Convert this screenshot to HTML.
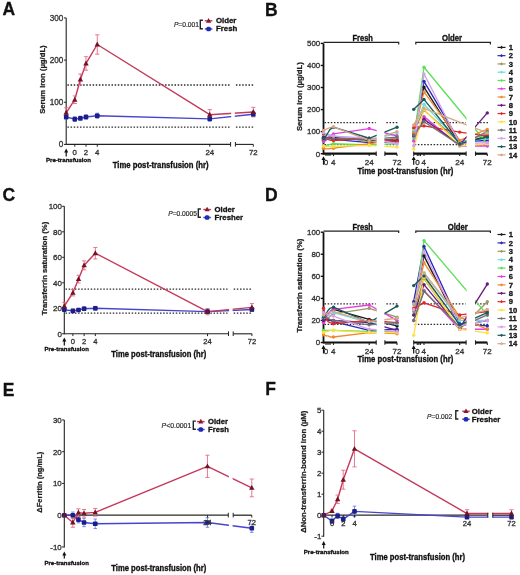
<!DOCTYPE html>
<html><head><meta charset="utf-8"><style>
html,body{margin:0;padding:0;background:#fff;}
svg{display:block;font-family:"Liberation Sans", sans-serif;filter:blur(0.3px);}

</style></head><body>
<svg width="520" height="575" viewBox="0 0 520 575">
<rect width="520" height="575" fill="#fff"/>
<text x="2.60" y="15.00" font-size="17.5" font-weight="bold" fill="#111" stroke="#111" stroke-width="0.3">A</text>
<line x1="66.20" y1="17.95" x2="66.20" y2="144.90" stroke="#222" stroke-width="1.1"/>
<line x1="64.00" y1="144.40" x2="66.20" y2="144.40" stroke="#222" stroke-width="1.0"/>
<text x="63.30" y="147.35" font-size="8.2" font-weight="normal" text-anchor="end" fill="#333" stroke="#333" stroke-width="0.32">0</text>
<line x1="64.00" y1="102.25" x2="66.20" y2="102.25" stroke="#222" stroke-width="1.0"/>
<text x="63.30" y="105.20" font-size="8.2" font-weight="normal" text-anchor="end" fill="#333" stroke="#333" stroke-width="0.32">100</text>
<line x1="64.00" y1="60.10" x2="66.20" y2="60.10" stroke="#222" stroke-width="1.0"/>
<text x="63.30" y="63.05" font-size="8.2" font-weight="normal" text-anchor="end" fill="#333" stroke="#333" stroke-width="0.32">200</text>
<line x1="64.00" y1="17.95" x2="66.20" y2="17.95" stroke="#222" stroke-width="1.0"/>
<text x="63.30" y="20.90" font-size="8.2" font-weight="normal" text-anchor="end" fill="#333" stroke="#333" stroke-width="0.32">300</text>
<text x="0" y="0" transform="translate(45.14,79.60) rotate(-90)" font-size="7.9" font-weight="bold" text-anchor="middle" fill="#222" stroke="#222" stroke-width="0.25" textLength="68.5" lengthAdjust="spacingAndGlyphs">Serum iron (µg/dL)</text>
<line x1="67.40" y1="84.97" x2="229.60" y2="84.97" stroke="#2a2a2a" stroke-width="1.35" stroke-dasharray="1.5 1.65"/>
<line x1="235.90" y1="84.97" x2="253.30" y2="84.97" stroke="#2a2a2a" stroke-width="1.35" stroke-dasharray="1.5 1.65"/>
<line x1="67.40" y1="127.12" x2="229.60" y2="127.12" stroke="#2a2a2a" stroke-width="1.35" stroke-dasharray="1.5 1.65"/>
<line x1="235.90" y1="127.12" x2="253.30" y2="127.12" stroke="#2a2a2a" stroke-width="1.35" stroke-dasharray="1.5 1.65"/>
<polyline points="66.20,117.00 74.75,119.11 80.38,118.27 86.00,117.00 97.25,115.74 209.75,118.90 253.30,114.26" fill="none" stroke="#4646cc" stroke-width="1.4" stroke-linejoin="round"/>
<polyline points="66.20,112.79 74.75,99.72 80.38,79.49 86.00,63.47 97.25,44.50 209.75,114.68 253.30,111.94" fill="none" stroke="#c6385a" stroke-width="1.4" stroke-linejoin="round"/>
<rect x="231.20" y="32.95" width="3.60" height="116.45" fill="#fff"/>
<line x1="66.20" y1="114.89" x2="66.20" y2="119.11" stroke="#5a72e6" stroke-width="0.8"/>
<line x1="64.45" y1="114.89" x2="67.95" y2="114.89" stroke="#5a72e6" stroke-width="0.8"/>
<line x1="64.45" y1="119.11" x2="67.95" y2="119.11" stroke="#5a72e6" stroke-width="0.8"/>
<line x1="74.75" y1="117.00" x2="74.75" y2="121.22" stroke="#5a72e6" stroke-width="0.8"/>
<line x1="73.00" y1="117.00" x2="76.50" y2="117.00" stroke="#5a72e6" stroke-width="0.8"/>
<line x1="73.00" y1="121.22" x2="76.50" y2="121.22" stroke="#5a72e6" stroke-width="0.8"/>
<line x1="80.38" y1="116.16" x2="80.38" y2="120.37" stroke="#5a72e6" stroke-width="0.8"/>
<line x1="78.62" y1="116.16" x2="82.12" y2="116.16" stroke="#5a72e6" stroke-width="0.8"/>
<line x1="78.62" y1="120.37" x2="82.12" y2="120.37" stroke="#5a72e6" stroke-width="0.8"/>
<line x1="86.00" y1="114.89" x2="86.00" y2="119.11" stroke="#5a72e6" stroke-width="0.8"/>
<line x1="84.25" y1="114.89" x2="87.75" y2="114.89" stroke="#5a72e6" stroke-width="0.8"/>
<line x1="84.25" y1="119.11" x2="87.75" y2="119.11" stroke="#5a72e6" stroke-width="0.8"/>
<line x1="97.25" y1="113.21" x2="97.25" y2="118.27" stroke="#5a72e6" stroke-width="0.8"/>
<line x1="95.50" y1="113.21" x2="99.00" y2="113.21" stroke="#5a72e6" stroke-width="0.8"/>
<line x1="95.50" y1="118.27" x2="99.00" y2="118.27" stroke="#5a72e6" stroke-width="0.8"/>
<line x1="209.75" y1="116.79" x2="209.75" y2="121.01" stroke="#5a72e6" stroke-width="0.8"/>
<line x1="208.00" y1="116.79" x2="211.50" y2="116.79" stroke="#5a72e6" stroke-width="0.8"/>
<line x1="208.00" y1="121.01" x2="211.50" y2="121.01" stroke="#5a72e6" stroke-width="0.8"/>
<line x1="253.30" y1="111.73" x2="253.30" y2="116.79" stroke="#5a72e6" stroke-width="0.8"/>
<line x1="251.55" y1="111.73" x2="255.05" y2="111.73" stroke="#5a72e6" stroke-width="0.8"/>
<line x1="251.55" y1="116.79" x2="255.05" y2="116.79" stroke="#5a72e6" stroke-width="0.8"/>
<line x1="66.20" y1="107.73" x2="66.20" y2="117.85" stroke="#e86a86" stroke-width="0.9"/>
<line x1="64.10" y1="107.73" x2="68.30" y2="107.73" stroke="#e86a86" stroke-width="0.9"/>
<line x1="64.10" y1="117.85" x2="68.30" y2="117.85" stroke="#e86a86" stroke-width="0.9"/>
<line x1="74.75" y1="95.93" x2="74.75" y2="103.51" stroke="#e86a86" stroke-width="0.9"/>
<line x1="72.65" y1="95.93" x2="76.85" y2="95.93" stroke="#e86a86" stroke-width="0.9"/>
<line x1="72.65" y1="103.51" x2="76.85" y2="103.51" stroke="#e86a86" stroke-width="0.9"/>
<line x1="80.38" y1="74.01" x2="80.38" y2="84.97" stroke="#e86a86" stroke-width="0.9"/>
<line x1="78.28" y1="74.01" x2="82.47" y2="74.01" stroke="#e86a86" stroke-width="0.9"/>
<line x1="78.28" y1="84.97" x2="82.47" y2="84.97" stroke="#e86a86" stroke-width="0.9"/>
<line x1="86.00" y1="56.73" x2="86.00" y2="70.22" stroke="#e86a86" stroke-width="0.9"/>
<line x1="83.90" y1="56.73" x2="88.10" y2="56.73" stroke="#e86a86" stroke-width="0.9"/>
<line x1="83.90" y1="70.22" x2="88.10" y2="70.22" stroke="#e86a86" stroke-width="0.9"/>
<line x1="97.25" y1="34.81" x2="97.25" y2="54.20" stroke="#e86a86" stroke-width="0.9"/>
<line x1="95.15" y1="34.81" x2="99.35" y2="34.81" stroke="#e86a86" stroke-width="0.9"/>
<line x1="95.15" y1="54.20" x2="99.35" y2="54.20" stroke="#e86a86" stroke-width="0.9"/>
<line x1="209.75" y1="109.63" x2="209.75" y2="119.74" stroke="#e86a86" stroke-width="0.9"/>
<line x1="207.65" y1="109.63" x2="211.85" y2="109.63" stroke="#e86a86" stroke-width="0.9"/>
<line x1="207.65" y1="119.74" x2="211.85" y2="119.74" stroke="#e86a86" stroke-width="0.9"/>
<line x1="253.30" y1="107.31" x2="253.30" y2="116.58" stroke="#e86a86" stroke-width="0.9"/>
<line x1="251.20" y1="107.31" x2="255.40" y2="107.31" stroke="#e86a86" stroke-width="0.9"/>
<line x1="251.20" y1="116.58" x2="255.40" y2="116.58" stroke="#e86a86" stroke-width="0.9"/>
<rect x="63.90" y="114.70" width="4.60" height="4.60" rx="0.9" fill="#1e1e8a"/>
<rect x="72.45" y="116.81" width="4.60" height="4.60" rx="0.9" fill="#1e1e8a"/>
<rect x="78.08" y="115.97" width="4.60" height="4.60" rx="0.9" fill="#1e1e8a"/>
<rect x="83.70" y="114.70" width="4.60" height="4.60" rx="0.9" fill="#1e1e8a"/>
<rect x="94.95" y="113.44" width="4.60" height="4.60" rx="0.9" fill="#1e1e8a"/>
<rect x="207.45" y="116.60" width="4.60" height="4.60" rx="0.9" fill="#1e1e8a"/>
<rect x="251.00" y="111.96" width="4.60" height="4.60" rx="0.9" fill="#1e1e8a"/>
<path d="M66.20,109.87 L68.90,114.73 L63.50,114.73 Z" fill="#6e1424"/>
<path d="M74.75,96.81 L77.45,101.67 L72.05,101.67 Z" fill="#6e1424"/>
<path d="M80.38,76.57 L83.08,81.43 L77.67,81.43 Z" fill="#6e1424"/>
<path d="M86.00,60.56 L88.70,65.42 L83.30,65.42 Z" fill="#6e1424"/>
<path d="M97.25,41.59 L99.95,46.45 L94.55,46.45 Z" fill="#6e1424"/>
<path d="M209.75,111.77 L212.45,116.63 L207.05,116.63 Z" fill="#6e1424"/>
<path d="M253.30,109.03 L256.00,113.89 L250.60,113.89 Z" fill="#6e1424"/>
<line x1="66.20" y1="144.40" x2="230.60" y2="144.40" stroke="#222" stroke-width="1.1"/>
<line x1="235.40" y1="144.40" x2="253.30" y2="144.40" stroke="#222" stroke-width="1.1"/>
<line x1="230.60" y1="142.00" x2="230.60" y2="146.60" stroke="#222" stroke-width="1.0"/>
<line x1="235.40" y1="142.00" x2="235.40" y2="146.60" stroke="#222" stroke-width="1.0"/>
<line x1="74.75" y1="144.40" x2="74.75" y2="146.70" stroke="#222" stroke-width="1.0"/>
<line x1="86.00" y1="144.40" x2="86.00" y2="146.70" stroke="#222" stroke-width="1.0"/>
<line x1="97.25" y1="144.40" x2="97.25" y2="146.70" stroke="#222" stroke-width="1.0"/>
<line x1="209.75" y1="144.40" x2="209.75" y2="146.70" stroke="#222" stroke-width="1.0"/>
<line x1="253.30" y1="144.40" x2="253.30" y2="146.70" stroke="#222" stroke-width="1.0"/>
<text x="74.75" y="155.31" font-size="7.8" font-weight="normal" text-anchor="middle" fill="#333" stroke="#333" stroke-width="0.32">0</text>
<text x="86.00" y="155.31" font-size="7.8" font-weight="normal" text-anchor="middle" fill="#333" stroke="#333" stroke-width="0.32">2</text>
<text x="97.25" y="155.31" font-size="7.8" font-weight="normal" text-anchor="middle" fill="#333" stroke="#333" stroke-width="0.32">4</text>
<text x="209.75" y="155.31" font-size="7.8" font-weight="normal" text-anchor="middle" fill="#333" stroke="#333" stroke-width="0.32">24</text>
<text x="253.30" y="155.31" font-size="7.8" font-weight="normal" text-anchor="middle" fill="#333" stroke="#333" stroke-width="0.32">72</text>
<line x1="66.20" y1="150.50" x2="66.20" y2="156.50" stroke="#111" stroke-width="1.2"/>
<path d="M66.20,148.50 L68.20,152.40 L64.20,152.40 Z" fill="#111"/>
<text x="46.00" y="162.43" font-size="6.2" font-weight="bold" text-anchor="start" fill="#111" stroke="#111" stroke-width="0.32" textLength="45" lengthAdjust="spacingAndGlyphs">Pre-transfusion</text>
<text x="112.70" y="167.99" font-size="8.3" font-weight="bold" text-anchor="start" fill="#111" stroke="#111" stroke-width="0.32" textLength="95.8" lengthAdjust="spacingAndGlyphs">Time post-transfusion (hr)</text>
<text x="199.00" y="27.41" font-size="6.7" text-anchor="end" fill="#2a2a2a" stroke="#2a2a2a" stroke-width="0.18"><tspan font-style="italic">P</tspan>=0.001</text>
<path d="M202.90,20.30 L200.30,20.30 L200.30,28.70 L202.90,28.70" fill="none" stroke="#222" stroke-width="1.4"/>
<line x1="204.80" y1="20.80" x2="212.40" y2="20.80" stroke="#c6385a" stroke-width="1.4"/>
<path d="M208.60,17.99 L211.20,22.67 L206.00,22.67 Z" fill="#8a1a2a"/>
<line x1="204.80" y1="29.00" x2="212.40" y2="29.00" stroke="#4646cc" stroke-width="1.4"/>
<rect x="206.30" y="26.70" width="4.60" height="4.60" rx="1.6" fill="#2228b8"/>
<text x="216.00" y="23.21" font-size="7.8" font-weight="bold" text-anchor="start" fill="#111" stroke="#111" stroke-width="0.3">Older</text>
<text x="216.00" y="31.41" font-size="7.8" font-weight="bold" text-anchor="start" fill="#111" stroke="#111" stroke-width="0.3">Fresh</text>
<text x="2.60" y="200.50" font-size="17.5" font-weight="bold" fill="#111" stroke="#111" stroke-width="0.3">C</text>
<line x1="64.30" y1="206.30" x2="64.30" y2="334.30" stroke="#222" stroke-width="1.1"/>
<line x1="62.10" y1="333.80" x2="64.30" y2="333.80" stroke="#222" stroke-width="1.0"/>
<text x="62.00" y="336.68" font-size="8.0" font-weight="normal" text-anchor="end" fill="#333" stroke="#333" stroke-width="0.32">0</text>
<line x1="62.10" y1="308.30" x2="64.30" y2="308.30" stroke="#222" stroke-width="1.0"/>
<text x="62.00" y="311.18" font-size="8.0" font-weight="normal" text-anchor="end" fill="#333" stroke="#333" stroke-width="0.32">20</text>
<line x1="62.10" y1="282.80" x2="64.30" y2="282.80" stroke="#222" stroke-width="1.0"/>
<text x="62.00" y="285.68" font-size="8.0" font-weight="normal" text-anchor="end" fill="#333" stroke="#333" stroke-width="0.32">40</text>
<line x1="62.10" y1="257.30" x2="64.30" y2="257.30" stroke="#222" stroke-width="1.0"/>
<text x="62.00" y="260.18" font-size="8.0" font-weight="normal" text-anchor="end" fill="#333" stroke="#333" stroke-width="0.32">60</text>
<line x1="62.10" y1="231.80" x2="64.30" y2="231.80" stroke="#222" stroke-width="1.0"/>
<text x="62.00" y="234.68" font-size="8.0" font-weight="normal" text-anchor="end" fill="#333" stroke="#333" stroke-width="0.32">80</text>
<line x1="62.10" y1="206.30" x2="64.30" y2="206.30" stroke="#222" stroke-width="1.0"/>
<text x="62.00" y="209.18" font-size="8.0" font-weight="normal" text-anchor="end" fill="#333" stroke="#333" stroke-width="0.32">100</text>
<text x="0" y="0" transform="translate(47.34,268.50) rotate(-90)" font-size="7.9" font-weight="bold" text-anchor="middle" fill="#222" stroke="#222" stroke-width="0.25" textLength="93.5" lengthAdjust="spacingAndGlyphs">Transferrin saturation (%)</text>
<line x1="65.50" y1="289.18" x2="227.50" y2="289.18" stroke="#2a2a2a" stroke-width="1.35" stroke-dasharray="1.5 1.65"/>
<line x1="233.70" y1="289.18" x2="251.90" y2="289.18" stroke="#2a2a2a" stroke-width="1.35" stroke-dasharray="1.5 1.65"/>
<line x1="65.50" y1="313.15" x2="227.50" y2="313.15" stroke="#2a2a2a" stroke-width="1.35" stroke-dasharray="1.5 1.65"/>
<line x1="233.70" y1="313.15" x2="251.90" y2="313.15" stroke="#2a2a2a" stroke-width="1.35" stroke-dasharray="1.5 1.65"/>
<polyline points="64.30,309.70 72.90,310.85 78.51,309.96 84.12,308.68 95.34,308.30 207.54,311.62 251.90,309.57" fill="none" stroke="#4646cc" stroke-width="1.4" stroke-linejoin="round"/>
<polyline points="64.30,306.13 72.90,292.75 78.51,279.10 84.12,265.33 95.34,253.22 207.54,311.62 251.90,307.41" fill="none" stroke="#c6385a" stroke-width="1.4" stroke-linejoin="round"/>
<rect x="229.10" y="221.30" width="3.50" height="117.50" fill="#fff"/>
<line x1="64.30" y1="307.79" x2="64.30" y2="311.62" stroke="#5a72e6" stroke-width="0.8"/>
<line x1="62.55" y1="307.79" x2="66.05" y2="307.79" stroke="#5a72e6" stroke-width="0.8"/>
<line x1="62.55" y1="311.62" x2="66.05" y2="311.62" stroke="#5a72e6" stroke-width="0.8"/>
<line x1="72.90" y1="309.32" x2="72.90" y2="312.38" stroke="#5a72e6" stroke-width="0.8"/>
<line x1="71.15" y1="309.32" x2="74.65" y2="309.32" stroke="#5a72e6" stroke-width="0.8"/>
<line x1="71.15" y1="312.38" x2="74.65" y2="312.38" stroke="#5a72e6" stroke-width="0.8"/>
<line x1="78.51" y1="308.43" x2="78.51" y2="311.49" stroke="#5a72e6" stroke-width="0.8"/>
<line x1="76.76" y1="308.43" x2="80.26" y2="308.43" stroke="#5a72e6" stroke-width="0.8"/>
<line x1="76.76" y1="311.49" x2="80.26" y2="311.49" stroke="#5a72e6" stroke-width="0.8"/>
<line x1="84.12" y1="306.77" x2="84.12" y2="310.60" stroke="#5a72e6" stroke-width="0.8"/>
<line x1="82.37" y1="306.77" x2="85.87" y2="306.77" stroke="#5a72e6" stroke-width="0.8"/>
<line x1="82.37" y1="310.60" x2="85.87" y2="310.60" stroke="#5a72e6" stroke-width="0.8"/>
<line x1="95.34" y1="306.39" x2="95.34" y2="310.21" stroke="#5a72e6" stroke-width="0.8"/>
<line x1="93.59" y1="306.39" x2="97.09" y2="306.39" stroke="#5a72e6" stroke-width="0.8"/>
<line x1="93.59" y1="310.21" x2="97.09" y2="310.21" stroke="#5a72e6" stroke-width="0.8"/>
<line x1="207.54" y1="309.70" x2="207.54" y2="313.53" stroke="#5a72e6" stroke-width="0.8"/>
<line x1="205.79" y1="309.70" x2="209.29" y2="309.70" stroke="#5a72e6" stroke-width="0.8"/>
<line x1="205.79" y1="313.53" x2="209.29" y2="313.53" stroke="#5a72e6" stroke-width="0.8"/>
<line x1="251.90" y1="307.66" x2="251.90" y2="311.49" stroke="#5a72e6" stroke-width="0.8"/>
<line x1="250.15" y1="307.66" x2="253.65" y2="307.66" stroke="#5a72e6" stroke-width="0.8"/>
<line x1="250.15" y1="311.49" x2="253.65" y2="311.49" stroke="#5a72e6" stroke-width="0.8"/>
<line x1="64.30" y1="302.31" x2="64.30" y2="309.96" stroke="#e86a86" stroke-width="0.9"/>
<line x1="62.20" y1="302.31" x2="66.40" y2="302.31" stroke="#e86a86" stroke-width="0.9"/>
<line x1="62.20" y1="309.96" x2="66.40" y2="309.96" stroke="#e86a86" stroke-width="0.9"/>
<line x1="72.90" y1="289.56" x2="72.90" y2="295.93" stroke="#e86a86" stroke-width="0.9"/>
<line x1="70.80" y1="289.56" x2="75.00" y2="289.56" stroke="#e86a86" stroke-width="0.9"/>
<line x1="70.80" y1="295.93" x2="75.00" y2="295.93" stroke="#e86a86" stroke-width="0.9"/>
<line x1="78.51" y1="275.28" x2="78.51" y2="282.93" stroke="#e86a86" stroke-width="0.9"/>
<line x1="76.41" y1="275.28" x2="80.61" y2="275.28" stroke="#e86a86" stroke-width="0.9"/>
<line x1="76.41" y1="282.93" x2="80.61" y2="282.93" stroke="#e86a86" stroke-width="0.9"/>
<line x1="84.12" y1="260.87" x2="84.12" y2="269.79" stroke="#e86a86" stroke-width="0.9"/>
<line x1="82.02" y1="260.87" x2="86.22" y2="260.87" stroke="#e86a86" stroke-width="0.9"/>
<line x1="82.02" y1="269.79" x2="86.22" y2="269.79" stroke="#e86a86" stroke-width="0.9"/>
<line x1="95.34" y1="247.48" x2="95.34" y2="258.96" stroke="#e86a86" stroke-width="0.9"/>
<line x1="93.24" y1="247.48" x2="97.44" y2="247.48" stroke="#e86a86" stroke-width="0.9"/>
<line x1="93.24" y1="258.96" x2="97.44" y2="258.96" stroke="#e86a86" stroke-width="0.9"/>
<line x1="207.54" y1="308.43" x2="207.54" y2="314.80" stroke="#e86a86" stroke-width="0.9"/>
<line x1="205.44" y1="308.43" x2="209.64" y2="308.43" stroke="#e86a86" stroke-width="0.9"/>
<line x1="205.44" y1="314.80" x2="209.64" y2="314.80" stroke="#e86a86" stroke-width="0.9"/>
<line x1="251.90" y1="303.58" x2="251.90" y2="311.23" stroke="#e86a86" stroke-width="0.9"/>
<line x1="249.80" y1="303.58" x2="254.00" y2="303.58" stroke="#e86a86" stroke-width="0.9"/>
<line x1="249.80" y1="311.23" x2="254.00" y2="311.23" stroke="#e86a86" stroke-width="0.9"/>
<rect x="62.00" y="307.40" width="4.60" height="4.60" rx="0.9" fill="#1e1e8a"/>
<rect x="70.60" y="308.55" width="4.60" height="4.60" rx="0.9" fill="#1e1e8a"/>
<rect x="76.21" y="307.66" width="4.60" height="4.60" rx="0.9" fill="#1e1e8a"/>
<rect x="81.82" y="306.38" width="4.60" height="4.60" rx="0.9" fill="#1e1e8a"/>
<rect x="93.04" y="306.00" width="4.60" height="4.60" rx="0.9" fill="#1e1e8a"/>
<rect x="205.24" y="309.31" width="4.60" height="4.60" rx="0.9" fill="#1e1e8a"/>
<rect x="249.60" y="307.27" width="4.60" height="4.60" rx="0.9" fill="#1e1e8a"/>
<path d="M64.30,303.22 L67.00,308.08 L61.60,308.08 Z" fill="#6e1424"/>
<path d="M72.90,289.83 L75.60,294.69 L70.20,294.69 Z" fill="#6e1424"/>
<path d="M78.51,276.19 L81.21,281.05 L75.81,281.05 Z" fill="#6e1424"/>
<path d="M84.12,262.42 L86.82,267.28 L81.42,267.28 Z" fill="#6e1424"/>
<path d="M95.34,250.30 L98.04,255.16 L92.64,255.16 Z" fill="#6e1424"/>
<path d="M207.54,308.70 L210.24,313.56 L204.84,313.56 Z" fill="#6e1424"/>
<path d="M251.90,304.49 L254.60,309.35 L249.20,309.35 Z" fill="#6e1424"/>
<line x1="64.30" y1="333.80" x2="228.50" y2="333.80" stroke="#222" stroke-width="1.1"/>
<line x1="233.20" y1="333.80" x2="251.90" y2="333.80" stroke="#222" stroke-width="1.1"/>
<line x1="228.50" y1="331.40" x2="228.50" y2="336.00" stroke="#222" stroke-width="1.0"/>
<line x1="233.20" y1="331.40" x2="233.20" y2="336.00" stroke="#222" stroke-width="1.0"/>
<line x1="72.90" y1="333.80" x2="72.90" y2="336.10" stroke="#222" stroke-width="1.0"/>
<line x1="84.12" y1="333.80" x2="84.12" y2="336.10" stroke="#222" stroke-width="1.0"/>
<line x1="95.34" y1="333.80" x2="95.34" y2="336.10" stroke="#222" stroke-width="1.0"/>
<line x1="207.54" y1="333.80" x2="207.54" y2="336.10" stroke="#222" stroke-width="1.0"/>
<line x1="251.90" y1="333.80" x2="251.90" y2="336.10" stroke="#222" stroke-width="1.0"/>
<text x="72.90" y="343.94" font-size="7.6" font-weight="normal" text-anchor="middle" fill="#333" stroke="#333" stroke-width="0.32">0</text>
<text x="84.12" y="343.94" font-size="7.6" font-weight="normal" text-anchor="middle" fill="#333" stroke="#333" stroke-width="0.32">2</text>
<text x="95.34" y="343.94" font-size="7.6" font-weight="normal" text-anchor="middle" fill="#333" stroke="#333" stroke-width="0.32">4</text>
<text x="207.54" y="343.94" font-size="7.6" font-weight="normal" text-anchor="middle" fill="#333" stroke="#333" stroke-width="0.32">24</text>
<text x="251.90" y="343.94" font-size="7.6" font-weight="normal" text-anchor="middle" fill="#333" stroke="#333" stroke-width="0.32">72</text>
<line x1="64.30" y1="339.50" x2="64.30" y2="345.50" stroke="#111" stroke-width="1.2"/>
<path d="M64.30,337.50 L66.30,341.40 L62.30,341.40 Z" fill="#111"/>
<text x="44.50" y="351.33" font-size="6.2" font-weight="bold" text-anchor="start" fill="#111" stroke="#111" stroke-width="0.32" textLength="44.3" lengthAdjust="spacingAndGlyphs">Pre-transfusion</text>
<text x="111.30" y="356.79" font-size="8.3" font-weight="bold" text-anchor="start" fill="#111" stroke="#111" stroke-width="0.32" textLength="95" lengthAdjust="spacingAndGlyphs">Time post-transfusion (hr)</text>
<text x="197.00" y="216.16" font-size="6.7" text-anchor="end" fill="#2a2a2a" stroke="#2a2a2a" stroke-width="0.18"><tspan font-style="italic">P</tspan>=0.0005</text>
<path d="M200.90,209.00 L198.30,209.00 L198.30,217.20 L200.90,217.20" fill="none" stroke="#222" stroke-width="1.4"/>
<line x1="203.30" y1="209.50" x2="210.90" y2="209.50" stroke="#c6385a" stroke-width="1.4"/>
<path d="M207.10,206.69 L209.70,211.37 L204.50,211.37 Z" fill="#8a1a2a"/>
<line x1="203.30" y1="217.50" x2="210.90" y2="217.50" stroke="#4646cc" stroke-width="1.4"/>
<rect x="204.80" y="215.20" width="4.60" height="4.60" rx="1.6" fill="#2228b8"/>
<text x="214.50" y="211.91" font-size="7.8" font-weight="bold" text-anchor="start" fill="#111" stroke="#111" stroke-width="0.3">Older</text>
<text x="214.50" y="219.91" font-size="7.8" font-weight="bold" text-anchor="start" fill="#111" stroke="#111" stroke-width="0.3">Fresher</text>
<text x="2.80" y="395.60" font-size="17.5" font-weight="bold" fill="#111" stroke="#111" stroke-width="0.3">E</text>
<line x1="64.30" y1="419.95" x2="64.30" y2="547.45" stroke="#222" stroke-width="1.1"/>
<line x1="62.10" y1="546.95" x2="64.30" y2="546.95" stroke="#222" stroke-width="1.0"/>
<text x="61.70" y="549.79" font-size="7.9" font-weight="normal" text-anchor="end" fill="#333" stroke="#333" stroke-width="0.32">-10</text>
<line x1="62.10" y1="515.20" x2="64.30" y2="515.20" stroke="#222" stroke-width="1.0"/>
<text x="61.70" y="518.04" font-size="7.9" font-weight="normal" text-anchor="end" fill="#333" stroke="#333" stroke-width="0.32">0</text>
<line x1="62.10" y1="483.45" x2="64.30" y2="483.45" stroke="#222" stroke-width="1.0"/>
<text x="61.70" y="486.29" font-size="7.9" font-weight="normal" text-anchor="end" fill="#333" stroke="#333" stroke-width="0.32">10</text>
<line x1="62.10" y1="451.70" x2="64.30" y2="451.70" stroke="#222" stroke-width="1.0"/>
<text x="61.70" y="454.54" font-size="7.9" font-weight="normal" text-anchor="end" fill="#333" stroke="#333" stroke-width="0.32">20</text>
<line x1="62.10" y1="419.95" x2="64.30" y2="419.95" stroke="#222" stroke-width="1.0"/>
<text x="61.70" y="422.79" font-size="7.9" font-weight="normal" text-anchor="end" fill="#333" stroke="#333" stroke-width="0.32">30</text>
<text x="0" y="0" transform="translate(42.41,482.20) rotate(-90)" font-size="7.8" font-weight="bold" text-anchor="middle" fill="#222" stroke="#222" stroke-width="0.25" textLength="61" lengthAdjust="spacingAndGlyphs">ΔFerritin (ng/mL)</text>
<line x1="64.30" y1="515.20" x2="228.30" y2="515.20" stroke="#2a2a2a" stroke-width="1.3"/>
<line x1="233.20" y1="515.20" x2="251.80" y2="515.20" stroke="#2a2a2a" stroke-width="1.3"/>
<polyline points="64.30,515.20 72.80,515.20 78.41,519.65 84.02,522.50 95.24,523.77 207.44,522.50 251.80,528.22" fill="none" stroke="#4646cc" stroke-width="1.4" stroke-linejoin="round"/>
<polyline points="64.30,515.20 72.80,522.50 78.41,512.66 84.02,513.30 95.24,512.34 207.44,466.31 251.80,487.90" fill="none" stroke="#c6385a" stroke-width="1.4" stroke-linejoin="round"/>
<rect x="228.90" y="434.95" width="3.70" height="117.00" fill="#fff"/>
<line x1="72.80" y1="512.03" x2="72.80" y2="518.38" stroke="#5a72e6" stroke-width="0.8"/>
<line x1="71.05" y1="512.03" x2="74.55" y2="512.03" stroke="#5a72e6" stroke-width="0.8"/>
<line x1="71.05" y1="518.38" x2="74.55" y2="518.38" stroke="#5a72e6" stroke-width="0.8"/>
<line x1="78.41" y1="516.47" x2="78.41" y2="522.82" stroke="#5a72e6" stroke-width="0.8"/>
<line x1="76.66" y1="516.47" x2="80.16" y2="516.47" stroke="#5a72e6" stroke-width="0.8"/>
<line x1="76.66" y1="522.82" x2="80.16" y2="522.82" stroke="#5a72e6" stroke-width="0.8"/>
<line x1="84.02" y1="518.38" x2="84.02" y2="526.63" stroke="#5a72e6" stroke-width="0.8"/>
<line x1="82.27" y1="518.38" x2="85.77" y2="518.38" stroke="#5a72e6" stroke-width="0.8"/>
<line x1="82.27" y1="526.63" x2="85.77" y2="526.63" stroke="#5a72e6" stroke-width="0.8"/>
<line x1="95.24" y1="519.01" x2="95.24" y2="528.54" stroke="#5a72e6" stroke-width="0.8"/>
<line x1="93.49" y1="519.01" x2="96.99" y2="519.01" stroke="#5a72e6" stroke-width="0.8"/>
<line x1="93.49" y1="528.54" x2="96.99" y2="528.54" stroke="#5a72e6" stroke-width="0.8"/>
<line x1="207.44" y1="517.74" x2="207.44" y2="527.27" stroke="#5a72e6" stroke-width="0.8"/>
<line x1="205.69" y1="517.74" x2="209.19" y2="517.74" stroke="#5a72e6" stroke-width="0.8"/>
<line x1="205.69" y1="527.27" x2="209.19" y2="527.27" stroke="#5a72e6" stroke-width="0.8"/>
<line x1="251.80" y1="524.09" x2="251.80" y2="532.35" stroke="#5a72e6" stroke-width="0.8"/>
<line x1="250.05" y1="524.09" x2="253.55" y2="524.09" stroke="#5a72e6" stroke-width="0.8"/>
<line x1="250.05" y1="532.35" x2="253.55" y2="532.35" stroke="#5a72e6" stroke-width="0.8"/>
<line x1="72.80" y1="517.74" x2="72.80" y2="527.27" stroke="#e86a86" stroke-width="0.9"/>
<line x1="70.70" y1="517.74" x2="74.90" y2="517.74" stroke="#e86a86" stroke-width="0.9"/>
<line x1="70.70" y1="527.27" x2="74.90" y2="527.27" stroke="#e86a86" stroke-width="0.9"/>
<line x1="78.41" y1="508.85" x2="78.41" y2="516.47" stroke="#e86a86" stroke-width="0.9"/>
<line x1="76.31" y1="508.85" x2="80.51" y2="508.85" stroke="#e86a86" stroke-width="0.9"/>
<line x1="76.31" y1="516.47" x2="80.51" y2="516.47" stroke="#e86a86" stroke-width="0.9"/>
<line x1="84.02" y1="509.49" x2="84.02" y2="517.11" stroke="#e86a86" stroke-width="0.9"/>
<line x1="81.92" y1="509.49" x2="86.12" y2="509.49" stroke="#e86a86" stroke-width="0.9"/>
<line x1="81.92" y1="517.11" x2="86.12" y2="517.11" stroke="#e86a86" stroke-width="0.9"/>
<line x1="95.24" y1="508.53" x2="95.24" y2="516.15" stroke="#e86a86" stroke-width="0.9"/>
<line x1="93.14" y1="508.53" x2="97.34" y2="508.53" stroke="#e86a86" stroke-width="0.9"/>
<line x1="93.14" y1="516.15" x2="97.34" y2="516.15" stroke="#e86a86" stroke-width="0.9"/>
<line x1="207.44" y1="455.19" x2="207.44" y2="477.42" stroke="#e86a86" stroke-width="0.9"/>
<line x1="205.34" y1="455.19" x2="209.54" y2="455.19" stroke="#e86a86" stroke-width="0.9"/>
<line x1="205.34" y1="477.42" x2="209.54" y2="477.42" stroke="#e86a86" stroke-width="0.9"/>
<line x1="251.80" y1="479.01" x2="251.80" y2="496.79" stroke="#e86a86" stroke-width="0.9"/>
<line x1="249.70" y1="479.01" x2="253.90" y2="479.01" stroke="#e86a86" stroke-width="0.9"/>
<line x1="249.70" y1="496.79" x2="253.90" y2="496.79" stroke="#e86a86" stroke-width="0.9"/>
<rect x="62.00" y="512.90" width="4.60" height="4.60" rx="0.9" fill="#1e1e8a"/>
<rect x="70.50" y="512.90" width="4.60" height="4.60" rx="0.9" fill="#1e1e8a"/>
<rect x="76.11" y="517.35" width="4.60" height="4.60" rx="0.9" fill="#1e1e8a"/>
<rect x="81.72" y="520.20" width="4.60" height="4.60" rx="0.9" fill="#1e1e8a"/>
<rect x="92.94" y="521.47" width="4.60" height="4.60" rx="0.9" fill="#1e1e8a"/>
<rect x="205.14" y="520.20" width="4.60" height="4.60" rx="0.9" fill="#1e1e8a"/>
<rect x="249.50" y="525.92" width="4.60" height="4.60" rx="0.9" fill="#1e1e8a"/>
<path d="M64.30,512.28 L67.00,517.14 L61.60,517.14 Z" fill="#6e1424"/>
<path d="M72.80,519.59 L75.50,524.45 L70.10,524.45 Z" fill="#6e1424"/>
<path d="M78.41,509.74 L81.11,514.60 L75.71,514.60 Z" fill="#6e1424"/>
<path d="M84.02,510.38 L86.72,515.24 L81.32,515.24 Z" fill="#6e1424"/>
<path d="M95.24,509.43 L97.94,514.29 L92.54,514.29 Z" fill="#6e1424"/>
<path d="M207.44,463.39 L210.14,468.25 L204.74,468.25 Z" fill="#6e1424"/>
<path d="M251.80,484.98 L254.50,489.84 L249.10,489.84 Z" fill="#6e1424"/>
<line x1="228.30" y1="512.80" x2="228.30" y2="517.40" stroke="#222" stroke-width="1.0"/>
<line x1="233.20" y1="512.80" x2="233.20" y2="517.40" stroke="#222" stroke-width="1.0"/>
<line x1="207.44" y1="515.20" x2="207.44" y2="517.50" stroke="#222" stroke-width="1.0"/>
<line x1="251.80" y1="515.20" x2="251.80" y2="517.50" stroke="#222" stroke-width="1.0"/>
<text x="207.44" y="525.24" font-size="7.6" font-weight="normal" text-anchor="middle" fill="#333" stroke="#333" stroke-width="0.32">24</text>
<text x="251.80" y="525.24" font-size="7.6" font-weight="normal" text-anchor="middle" fill="#333" stroke="#333" stroke-width="0.32">72</text>
<line x1="64.30" y1="553.50" x2="64.30" y2="558.50" stroke="#111" stroke-width="1.2"/>
<path d="M64.30,551.50 L66.30,555.40 L62.30,555.40 Z" fill="#111"/>
<text x="44.50" y="564.83" font-size="6.2" font-weight="bold" text-anchor="start" fill="#111" stroke="#111" stroke-width="0.32" textLength="44.3" lengthAdjust="spacingAndGlyphs">Pre-transfusion</text>
<text x="111.30" y="570.69" font-size="8.3" font-weight="bold" text-anchor="start" fill="#111" stroke="#111" stroke-width="0.32" textLength="95" lengthAdjust="spacingAndGlyphs">Time post-transfusion (hr)</text>
<text x="191.30" y="427.98" font-size="6.9" text-anchor="end" fill="#2a2a2a" stroke="#2a2a2a" stroke-width="0.18"><tspan font-style="italic">P</tspan>&lt;0.0001</text>
<path d="M195.90,421.10 L193.30,421.10 L193.30,429.20 L195.90,429.20" fill="none" stroke="#222" stroke-width="1.4"/>
<line x1="197.00" y1="421.60" x2="204.60" y2="421.60" stroke="#c6385a" stroke-width="1.4"/>
<path d="M200.80,418.79 L203.40,423.47 L198.20,423.47 Z" fill="#8a1a2a"/>
<line x1="197.00" y1="429.50" x2="204.60" y2="429.50" stroke="#4646cc" stroke-width="1.4"/>
<rect x="198.50" y="427.20" width="4.60" height="4.60" rx="1.6" fill="#2228b8"/>
<text x="208.10" y="423.94" font-size="7.6" font-weight="bold" text-anchor="start" fill="#111" stroke="#111" stroke-width="0.3">Older</text>
<text x="208.10" y="431.84" font-size="7.6" font-weight="bold" text-anchor="start" fill="#111" stroke="#111" stroke-width="0.3">Fresh</text>
<text x="265.30" y="395.20" font-size="17.5" font-weight="bold" fill="#111" stroke="#111" stroke-width="0.3">F</text>
<line x1="323.70" y1="410.20" x2="323.70" y2="536.70" stroke="#222" stroke-width="1.1"/>
<line x1="321.50" y1="536.20" x2="323.70" y2="536.20" stroke="#222" stroke-width="1.0"/>
<text x="321.30" y="539.04" font-size="7.9" font-weight="normal" text-anchor="end" fill="#333" stroke="#333" stroke-width="0.32">-1</text>
<line x1="321.50" y1="515.20" x2="323.70" y2="515.20" stroke="#222" stroke-width="1.0"/>
<text x="321.30" y="518.04" font-size="7.9" font-weight="normal" text-anchor="end" fill="#333" stroke="#333" stroke-width="0.32">0</text>
<line x1="321.50" y1="494.20" x2="323.70" y2="494.20" stroke="#222" stroke-width="1.0"/>
<text x="321.30" y="497.04" font-size="7.9" font-weight="normal" text-anchor="end" fill="#333" stroke="#333" stroke-width="0.32">1</text>
<line x1="321.50" y1="473.20" x2="323.70" y2="473.20" stroke="#222" stroke-width="1.0"/>
<text x="321.30" y="476.04" font-size="7.9" font-weight="normal" text-anchor="end" fill="#333" stroke="#333" stroke-width="0.32">2</text>
<line x1="321.50" y1="452.20" x2="323.70" y2="452.20" stroke="#222" stroke-width="1.0"/>
<text x="321.30" y="455.04" font-size="7.9" font-weight="normal" text-anchor="end" fill="#333" stroke="#333" stroke-width="0.32">3</text>
<line x1="321.50" y1="431.20" x2="323.70" y2="431.20" stroke="#222" stroke-width="1.0"/>
<text x="321.30" y="434.04" font-size="7.9" font-weight="normal" text-anchor="end" fill="#333" stroke="#333" stroke-width="0.32">4</text>
<line x1="321.50" y1="410.20" x2="323.70" y2="410.20" stroke="#222" stroke-width="1.0"/>
<text x="321.30" y="413.04" font-size="7.9" font-weight="normal" text-anchor="end" fill="#333" stroke="#333" stroke-width="0.32">5</text>
<text x="0" y="0" transform="translate(305.97,471.70) rotate(-90)" font-size="7.7" font-weight="bold" text-anchor="middle" fill="#222" stroke="#222" stroke-width="0.25" textLength="122" lengthAdjust="spacingAndGlyphs">ΔNon-transferrin-bound iron (µM)</text>
<line x1="323.70" y1="515.20" x2="487.75" y2="515.20" stroke="#2a2a2a" stroke-width="1.3"/>
<line x1="492.80" y1="515.20" x2="511.50" y2="515.20" stroke="#2a2a2a" stroke-width="1.3"/>
<polyline points="323.70,515.20 332.00,521.08 337.62,515.83 343.25,519.19 354.50,511.42 467.00,517.09 511.50,517.09" fill="none" stroke="#4646cc" stroke-width="1.4" stroke-linejoin="round"/>
<polyline points="323.70,515.20 332.00,511.00 337.62,499.24 343.25,479.71 354.50,448.84 467.00,513.52 511.50,513.52" fill="none" stroke="#c6385a" stroke-width="1.4" stroke-linejoin="round"/>
<rect x="488.35" y="425.20" width="3.85" height="116.00" fill="#fff"/>
<line x1="332.00" y1="518.98" x2="332.00" y2="523.18" stroke="#5a72e6" stroke-width="0.8"/>
<line x1="330.25" y1="518.98" x2="333.75" y2="518.98" stroke="#5a72e6" stroke-width="0.8"/>
<line x1="330.25" y1="523.18" x2="333.75" y2="523.18" stroke="#5a72e6" stroke-width="0.8"/>
<line x1="337.62" y1="513.31" x2="337.62" y2="518.35" stroke="#5a72e6" stroke-width="0.8"/>
<line x1="335.88" y1="513.31" x2="339.38" y2="513.31" stroke="#5a72e6" stroke-width="0.8"/>
<line x1="335.88" y1="518.35" x2="339.38" y2="518.35" stroke="#5a72e6" stroke-width="0.8"/>
<line x1="343.25" y1="516.67" x2="343.25" y2="521.71" stroke="#5a72e6" stroke-width="0.8"/>
<line x1="341.50" y1="516.67" x2="345.00" y2="516.67" stroke="#5a72e6" stroke-width="0.8"/>
<line x1="341.50" y1="521.71" x2="345.00" y2="521.71" stroke="#5a72e6" stroke-width="0.8"/>
<line x1="354.50" y1="506.17" x2="354.50" y2="516.67" stroke="#5a72e6" stroke-width="0.8"/>
<line x1="352.75" y1="506.17" x2="356.25" y2="506.17" stroke="#5a72e6" stroke-width="0.8"/>
<line x1="352.75" y1="516.67" x2="356.25" y2="516.67" stroke="#5a72e6" stroke-width="0.8"/>
<line x1="467.00" y1="516.04" x2="467.00" y2="518.14" stroke="#5a72e6" stroke-width="0.8"/>
<line x1="465.25" y1="516.04" x2="468.75" y2="516.04" stroke="#5a72e6" stroke-width="0.8"/>
<line x1="465.25" y1="518.14" x2="468.75" y2="518.14" stroke="#5a72e6" stroke-width="0.8"/>
<line x1="511.50" y1="516.04" x2="511.50" y2="518.14" stroke="#5a72e6" stroke-width="0.8"/>
<line x1="509.75" y1="516.04" x2="513.25" y2="516.04" stroke="#5a72e6" stroke-width="0.8"/>
<line x1="509.75" y1="518.14" x2="513.25" y2="518.14" stroke="#5a72e6" stroke-width="0.8"/>
<line x1="332.00" y1="509.95" x2="332.00" y2="512.05" stroke="#e86a86" stroke-width="0.9"/>
<line x1="329.90" y1="509.95" x2="334.10" y2="509.95" stroke="#e86a86" stroke-width="0.9"/>
<line x1="329.90" y1="512.05" x2="334.10" y2="512.05" stroke="#e86a86" stroke-width="0.9"/>
<line x1="337.62" y1="495.04" x2="337.62" y2="503.44" stroke="#e86a86" stroke-width="0.9"/>
<line x1="335.52" y1="495.04" x2="339.73" y2="495.04" stroke="#e86a86" stroke-width="0.9"/>
<line x1="335.52" y1="503.44" x2="339.73" y2="503.44" stroke="#e86a86" stroke-width="0.9"/>
<line x1="343.25" y1="470.26" x2="343.25" y2="489.16" stroke="#e86a86" stroke-width="0.9"/>
<line x1="341.15" y1="470.26" x2="345.35" y2="470.26" stroke="#e86a86" stroke-width="0.9"/>
<line x1="341.15" y1="489.16" x2="345.35" y2="489.16" stroke="#e86a86" stroke-width="0.9"/>
<line x1="354.50" y1="430.78" x2="354.50" y2="466.90" stroke="#e86a86" stroke-width="0.9"/>
<line x1="352.40" y1="430.78" x2="356.60" y2="430.78" stroke="#e86a86" stroke-width="0.9"/>
<line x1="352.40" y1="466.90" x2="356.60" y2="466.90" stroke="#e86a86" stroke-width="0.9"/>
<line x1="467.00" y1="509.74" x2="467.00" y2="517.30" stroke="#e86a86" stroke-width="0.9"/>
<line x1="464.90" y1="509.74" x2="469.10" y2="509.74" stroke="#e86a86" stroke-width="0.9"/>
<line x1="464.90" y1="517.30" x2="469.10" y2="517.30" stroke="#e86a86" stroke-width="0.9"/>
<line x1="511.50" y1="509.74" x2="511.50" y2="517.30" stroke="#e86a86" stroke-width="0.9"/>
<line x1="509.40" y1="509.74" x2="513.60" y2="509.74" stroke="#e86a86" stroke-width="0.9"/>
<line x1="509.40" y1="517.30" x2="513.60" y2="517.30" stroke="#e86a86" stroke-width="0.9"/>
<rect x="321.40" y="512.90" width="4.60" height="4.60" rx="0.9" fill="#1e1e8a"/>
<rect x="329.70" y="518.78" width="4.60" height="4.60" rx="0.9" fill="#1e1e8a"/>
<rect x="335.32" y="513.53" width="4.60" height="4.60" rx="0.9" fill="#1e1e8a"/>
<rect x="340.95" y="516.89" width="4.60" height="4.60" rx="0.9" fill="#1e1e8a"/>
<rect x="352.20" y="509.12" width="4.60" height="4.60" rx="0.9" fill="#1e1e8a"/>
<rect x="464.70" y="514.79" width="4.60" height="4.60" rx="0.9" fill="#1e1e8a"/>
<rect x="509.20" y="514.79" width="4.60" height="4.60" rx="0.9" fill="#1e1e8a"/>
<path d="M323.70,512.28 L326.40,517.14 L321.00,517.14 Z" fill="#6e1424"/>
<path d="M332.00,508.08 L334.70,512.94 L329.30,512.94 Z" fill="#6e1424"/>
<path d="M337.62,496.32 L340.32,501.18 L334.93,501.18 Z" fill="#6e1424"/>
<path d="M343.25,476.79 L345.95,481.65 L340.55,481.65 Z" fill="#6e1424"/>
<path d="M354.50,445.92 L357.20,450.78 L351.80,450.78 Z" fill="#6e1424"/>
<path d="M467.00,510.60 L469.70,515.46 L464.30,515.46 Z" fill="#6e1424"/>
<path d="M511.50,510.60 L514.20,515.46 L508.80,515.46 Z" fill="#6e1424"/>
<line x1="487.75" y1="512.80" x2="487.75" y2="517.40" stroke="#222" stroke-width="1.0"/>
<line x1="492.80" y1="512.80" x2="492.80" y2="517.40" stroke="#222" stroke-width="1.0"/>
<line x1="332.00" y1="515.20" x2="332.00" y2="517.50" stroke="#222" stroke-width="1.0"/>
<line x1="343.25" y1="515.20" x2="343.25" y2="517.50" stroke="#222" stroke-width="1.0"/>
<line x1="354.50" y1="515.20" x2="354.50" y2="517.50" stroke="#222" stroke-width="1.0"/>
<line x1="467.00" y1="515.20" x2="467.00" y2="517.50" stroke="#222" stroke-width="1.0"/>
<line x1="511.50" y1="515.20" x2="511.50" y2="517.50" stroke="#222" stroke-width="1.0"/>
<text x="332.00" y="526.24" font-size="7.6" font-weight="normal" text-anchor="middle" fill="#333" stroke="#333" stroke-width="0.32">0</text>
<text x="343.25" y="526.24" font-size="7.6" font-weight="normal" text-anchor="middle" fill="#333" stroke="#333" stroke-width="0.32">2</text>
<text x="354.50" y="526.24" font-size="7.6" font-weight="normal" text-anchor="middle" fill="#333" stroke="#333" stroke-width="0.32">4</text>
<text x="467.00" y="526.24" font-size="7.6" font-weight="normal" text-anchor="middle" fill="#333" stroke="#333" stroke-width="0.32">24</text>
<text x="511.50" y="526.24" font-size="7.6" font-weight="normal" text-anchor="middle" fill="#333" stroke="#333" stroke-width="0.32">72</text>
<line x1="323.70" y1="543.00" x2="323.70" y2="548.50" stroke="#111" stroke-width="1.2"/>
<path d="M323.70,541.00 L325.70,544.90 L321.70,544.90 Z" fill="#111"/>
<text x="303.80" y="554.23" font-size="6.2" font-weight="bold" text-anchor="start" fill="#111" stroke="#111" stroke-width="0.32" textLength="45" lengthAdjust="spacingAndGlyphs">Pre-transfusion</text>
<text x="370.00" y="560.19" font-size="8.3" font-weight="bold" text-anchor="start" fill="#111" stroke="#111" stroke-width="0.32" textLength="95" lengthAdjust="spacingAndGlyphs">Time post-transfusion (hr)</text>
<text x="452.20" y="418.66" font-size="6.7" text-anchor="end" fill="#2a2a2a" stroke="#2a2a2a" stroke-width="0.18"><tspan font-style="italic">P</tspan>=0.002</text>
<path d="M458.40,410.75 L455.80,410.75 L455.80,418.95 L458.40,418.95" fill="none" stroke="#222" stroke-width="1.4"/>
<line x1="462.20" y1="411.25" x2="469.80" y2="411.25" stroke="#c6385a" stroke-width="1.4"/>
<path d="M466.00,408.44 L468.60,413.12 L463.40,413.12 Z" fill="#8a1a2a"/>
<line x1="462.20" y1="419.25" x2="469.80" y2="419.25" stroke="#4646cc" stroke-width="1.4"/>
<rect x="463.70" y="416.95" width="4.60" height="4.60" rx="1.6" fill="#2228b8"/>
<text x="471.80" y="413.66" font-size="7.8" font-weight="bold" text-anchor="start" fill="#111" stroke="#111" stroke-width="0.3">Older</text>
<text x="471.80" y="421.66" font-size="7.8" font-weight="bold" text-anchor="start" fill="#111" stroke="#111" stroke-width="0.3">Fresher</text>
<text x="265.00" y="16.20" font-size="17.5" font-weight="bold" fill="#111" stroke="#111" stroke-width="0.3">B</text>
<line x1="323.50" y1="43.40" x2="323.50" y2="154.70" stroke="#111" stroke-width="1.8"/>
<line x1="320.70" y1="153.70" x2="323.50" y2="153.70" stroke="#111" stroke-width="1.4"/>
<text x="320.20" y="156.54" font-size="7.9" font-weight="normal" text-anchor="end" fill="#333" stroke="#333" stroke-width="0.32">0</text>
<line x1="320.70" y1="131.64" x2="323.50" y2="131.64" stroke="#111" stroke-width="1.4"/>
<text x="320.20" y="134.48" font-size="7.9" font-weight="normal" text-anchor="end" fill="#333" stroke="#333" stroke-width="0.32">100</text>
<line x1="320.70" y1="109.58" x2="323.50" y2="109.58" stroke="#111" stroke-width="1.4"/>
<text x="320.20" y="112.42" font-size="7.9" font-weight="normal" text-anchor="end" fill="#333" stroke="#333" stroke-width="0.32">200</text>
<line x1="320.70" y1="87.52" x2="323.50" y2="87.52" stroke="#111" stroke-width="1.4"/>
<text x="320.20" y="90.36" font-size="7.9" font-weight="normal" text-anchor="end" fill="#333" stroke="#333" stroke-width="0.32">300</text>
<line x1="320.70" y1="65.46" x2="323.50" y2="65.46" stroke="#111" stroke-width="1.4"/>
<text x="320.20" y="68.30" font-size="7.9" font-weight="normal" text-anchor="end" fill="#333" stroke="#333" stroke-width="0.32">400</text>
<line x1="320.70" y1="43.40" x2="323.50" y2="43.40" stroke="#111" stroke-width="1.4"/>
<text x="320.20" y="46.24" font-size="7.9" font-weight="normal" text-anchor="end" fill="#333" stroke="#333" stroke-width="0.32">500</text>
<text x="0" y="0" transform="translate(301.54,96.60) rotate(-90)" font-size="7.9" font-weight="bold" text-anchor="middle" fill="#222" stroke="#222" stroke-width="0.25" textLength="69" lengthAdjust="spacingAndGlyphs">Serum iron (µg/dL)</text>
<path d="M323.50,42.40 L398.7,42.40 L398.7,44.40" fill="none" stroke="#222" stroke-width="1.2"/>
<path d="M415.8,44.40 L415.8,42.40 L490.4,42.40 L490.4,44.40" fill="none" stroke="#222" stroke-width="1.2"/>
<text x="352.50" y="40.85" font-size="8.2" font-weight="bold" text-anchor="start" fill="#111" stroke="#111" stroke-width="0.32" textLength="20.4" lengthAdjust="spacingAndGlyphs">Fresh</text>
<text x="441.90" y="40.85" font-size="8.2" font-weight="bold" text-anchor="start" fill="#111" stroke="#111" stroke-width="0.32" textLength="20.2" lengthAdjust="spacingAndGlyphs">Older</text>
<line x1="324.50" y1="122.60" x2="375.70" y2="122.60" stroke="#2a2a2a" stroke-width="1.35" stroke-dasharray="1.5 1.65"/>
<line x1="386.40" y1="122.60" x2="398.00" y2="122.60" stroke="#2a2a2a" stroke-width="1.35" stroke-dasharray="1.5 1.65"/>
<line x1="414.70" y1="122.60" x2="465.60" y2="122.60" stroke="#2a2a2a" stroke-width="1.35" stroke-dasharray="1.5 1.65"/>
<line x1="477.00" y1="122.60" x2="488.30" y2="122.60" stroke="#2a2a2a" stroke-width="1.35" stroke-dasharray="1.5 1.65"/>
<line x1="324.50" y1="144.66" x2="375.70" y2="144.66" stroke="#2a2a2a" stroke-width="1.35" stroke-dasharray="1.5 1.65"/>
<line x1="386.40" y1="144.66" x2="398.00" y2="144.66" stroke="#2a2a2a" stroke-width="1.35" stroke-dasharray="1.5 1.65"/>
<line x1="414.70" y1="144.66" x2="465.60" y2="144.66" stroke="#2a2a2a" stroke-width="1.35" stroke-dasharray="1.5 1.65"/>
<line x1="477.00" y1="144.66" x2="488.30" y2="144.66" stroke="#2a2a2a" stroke-width="1.35" stroke-dasharray="1.5 1.65"/>
<polyline points="323.50,140.46 326.00,139.36 328.00,138.70 330.00,138.26 333.50,137.16 369.20,140.46 397.00,139.36" fill="none" stroke="#1a1a1a" stroke-width="1.35" stroke-linejoin="round"/>
<polyline points="323.50,136.05 326.00,137.16 328.00,137.82 330.00,138.26 333.50,139.36 369.20,142.67 397.00,141.57" fill="none" stroke="#2a2ab8" stroke-width="1.35" stroke-linejoin="round"/>
<polyline points="323.50,138.26 326.00,137.82 328.00,137.16 330.00,136.49 333.50,136.05 369.20,141.57 397.00,138.26" fill="none" stroke="#a09860" stroke-width="1.35" stroke-linejoin="round"/>
<polyline points="323.50,134.95 326.00,133.85 328.00,134.29 330.00,134.95 333.50,136.05 369.20,139.36 397.00,133.85" fill="none" stroke="#6fdde0" stroke-width="1.35" stroke-linejoin="round"/>
<polyline points="323.50,145.98 326.00,145.32 328.00,144.88 330.00,144.43 333.50,143.77 369.20,144.88 397.00,143.77" fill="none" stroke="#5ee05a" stroke-width="1.35" stroke-linejoin="round"/>
<polyline points="323.50,141.57 326.00,140.46 328.00,138.26 330.00,136.05 333.50,133.85 369.20,128.55 397.00,136.05" fill="none" stroke="#e040e0" stroke-width="1.35" stroke-linejoin="round"/>
<polyline points="323.50,148.19 326.00,148.85 328.00,148.85 330.00,148.63 333.50,148.19 369.20,143.77 397.00,139.36" fill="none" stroke="#f08a30" stroke-width="1.35" stroke-linejoin="round"/>
<polyline points="323.50,137.16 326.00,138.26 328.00,137.82 330.00,138.26 333.50,138.70 369.20,139.36 397.00,140.46" fill="none" stroke="#6a1a80" stroke-width="1.35" stroke-linejoin="round"/>
<polyline points="323.50,133.85 326.00,138.26 328.00,139.36 330.00,140.02 333.50,140.46 369.20,138.26 397.00,141.57" fill="none" stroke="#e02828" stroke-width="1.35" stroke-linejoin="round"/>
<polyline points="323.50,145.98 326.00,146.42 328.00,146.64 330.00,146.64 333.50,146.42 369.20,145.32 397.00,147.08" fill="none" stroke="#ffe040" stroke-width="1.35" stroke-linejoin="round"/>
<polyline points="323.50,139.36 326.00,138.70 328.00,138.26 330.00,137.82 333.50,138.26 369.20,139.36 397.00,137.16" fill="none" stroke="#707070" stroke-width="1.35" stroke-linejoin="round"/>
<polyline points="323.50,132.74 326.00,133.85 328.00,134.95 330.00,135.61 333.50,136.05 369.20,138.26 397.00,143.77" fill="none" stroke="#d6a0f0" stroke-width="1.35" stroke-linejoin="round"/>
<polyline points="323.50,138.26 326.00,136.05 328.00,132.74 330.00,129.43 333.50,127.23 369.20,138.26 397.00,127.23" fill="none" stroke="#1a5a5a" stroke-width="1.35" stroke-linejoin="round"/>
<polyline points="323.50,130.54 326.00,129.43 328.00,128.33 330.00,127.67 333.50,126.79 369.20,140.46 397.00,131.64" fill="none" stroke="#d4a888" stroke-width="1.35" stroke-linejoin="round"/>
<rect x="376.70" y="53.40" width="7.70" height="98.30" fill="#fff"/>
<circle cx="323.50" cy="140.46" r="1.70" fill="#1a1a1a"/>
<circle cx="333.50" cy="137.16" r="1.70" fill="#1a1a1a"/>
<circle cx="369.20" cy="140.46" r="1.70" fill="#1a1a1a"/>
<circle cx="397.00" cy="139.36" r="1.70" fill="#1a1a1a"/>
<circle cx="323.50" cy="136.05" r="1.70" fill="#2a2ab8"/>
<circle cx="333.50" cy="139.36" r="1.70" fill="#2a2ab8"/>
<circle cx="369.20" cy="142.67" r="1.70" fill="#2a2ab8"/>
<circle cx="397.00" cy="141.57" r="1.70" fill="#2a2ab8"/>
<circle cx="323.50" cy="138.26" r="1.70" fill="#a09860"/>
<circle cx="333.50" cy="136.05" r="1.70" fill="#a09860"/>
<circle cx="369.20" cy="141.57" r="1.70" fill="#a09860"/>
<circle cx="397.00" cy="138.26" r="1.70" fill="#a09860"/>
<circle cx="323.50" cy="134.95" r="1.70" fill="#6fdde0"/>
<circle cx="333.50" cy="136.05" r="1.70" fill="#6fdde0"/>
<circle cx="369.20" cy="139.36" r="1.70" fill="#6fdde0"/>
<circle cx="397.00" cy="133.85" r="1.70" fill="#6fdde0"/>
<circle cx="323.50" cy="145.98" r="1.70" fill="#5ee05a"/>
<circle cx="333.50" cy="143.77" r="1.70" fill="#5ee05a"/>
<circle cx="369.20" cy="144.88" r="1.70" fill="#5ee05a"/>
<circle cx="397.00" cy="143.77" r="1.70" fill="#5ee05a"/>
<circle cx="323.50" cy="141.57" r="1.70" fill="#e040e0"/>
<circle cx="333.50" cy="133.85" r="1.70" fill="#e040e0"/>
<circle cx="369.20" cy="128.55" r="1.70" fill="#e040e0"/>
<circle cx="397.00" cy="136.05" r="1.70" fill="#e040e0"/>
<circle cx="323.50" cy="148.19" r="1.70" fill="#f08a30"/>
<circle cx="333.50" cy="148.19" r="1.70" fill="#f08a30"/>
<circle cx="369.20" cy="143.77" r="1.70" fill="#f08a30"/>
<circle cx="397.00" cy="139.36" r="1.70" fill="#f08a30"/>
<circle cx="323.50" cy="137.16" r="1.70" fill="#6a1a80"/>
<circle cx="333.50" cy="138.70" r="1.70" fill="#6a1a80"/>
<circle cx="369.20" cy="139.36" r="1.70" fill="#6a1a80"/>
<circle cx="397.00" cy="140.46" r="1.70" fill="#6a1a80"/>
<circle cx="323.50" cy="133.85" r="1.70" fill="#e02828"/>
<circle cx="333.50" cy="140.46" r="1.70" fill="#e02828"/>
<circle cx="369.20" cy="138.26" r="1.70" fill="#e02828"/>
<circle cx="397.00" cy="141.57" r="1.70" fill="#e02828"/>
<circle cx="323.50" cy="145.98" r="1.70" fill="#ffe040"/>
<circle cx="333.50" cy="146.42" r="1.70" fill="#ffe040"/>
<circle cx="369.20" cy="145.32" r="1.70" fill="#ffe040"/>
<circle cx="397.00" cy="147.08" r="1.70" fill="#ffe040"/>
<circle cx="323.50" cy="139.36" r="1.70" fill="#707070"/>
<circle cx="333.50" cy="138.26" r="1.70" fill="#707070"/>
<circle cx="369.20" cy="139.36" r="1.70" fill="#707070"/>
<circle cx="397.00" cy="137.16" r="1.70" fill="#707070"/>
<circle cx="323.50" cy="132.74" r="1.70" fill="#d6a0f0"/>
<circle cx="333.50" cy="136.05" r="1.70" fill="#d6a0f0"/>
<circle cx="369.20" cy="138.26" r="1.70" fill="#d6a0f0"/>
<circle cx="397.00" cy="143.77" r="1.70" fill="#d6a0f0"/>
<circle cx="323.50" cy="138.26" r="1.70" fill="#1a5a5a"/>
<circle cx="333.50" cy="127.23" r="1.70" fill="#1a5a5a"/>
<circle cx="369.20" cy="138.26" r="1.70" fill="#1a5a5a"/>
<circle cx="397.00" cy="127.23" r="1.70" fill="#1a5a5a"/>
<circle cx="323.50" cy="130.54" r="1.70" fill="#d4a888"/>
<circle cx="333.50" cy="126.79" r="1.70" fill="#d4a888"/>
<circle cx="369.20" cy="140.46" r="1.70" fill="#d4a888"/>
<circle cx="397.00" cy="131.64" r="1.70" fill="#d4a888"/>
<polyline points="413.70,133.85 424.00,87.08 459.70,143.77 487.30,136.05" fill="none" stroke="#1a1a1a" stroke-width="1.35" stroke-linejoin="round"/>
<polyline points="413.70,135.83 424.00,81.34 459.70,141.57 487.30,140.46" fill="none" stroke="#2a2ab8" stroke-width="1.35" stroke-linejoin="round"/>
<polyline points="413.70,131.64 424.00,110.02 459.70,142.67 487.30,133.85" fill="none" stroke="#a09860" stroke-width="1.35" stroke-linejoin="round"/>
<polyline points="413.70,129.43 424.00,104.29 459.70,142.67 487.30,138.26" fill="none" stroke="#6fdde0" stroke-width="1.35" stroke-linejoin="round"/>
<polyline points="413.70,138.26 424.00,67.22 487.30,143.77" fill="none" stroke="#5ee05a" stroke-width="1.35" stroke-linejoin="round"/>
<polyline points="413.70,140.91 424.00,116.64 459.70,145.98 487.30,145.98" fill="none" stroke="#e040e0" stroke-width="1.35" stroke-linejoin="round"/>
<polyline points="413.70,132.74 424.00,91.93 459.70,140.46 487.30,129.43" fill="none" stroke="#f08a30" stroke-width="1.35" stroke-linejoin="round"/>
<polyline points="413.70,135.83 424.00,119.29 459.70,144.88 487.30,112.89" fill="none" stroke="#6a1a80" stroke-width="1.35" stroke-linejoin="round"/>
<polyline points="413.70,127.67 424.00,125.90 459.70,132.08 487.30,136.05" fill="none" stroke="#e02828" stroke-width="1.35" stroke-linejoin="round"/>
<polyline points="413.70,149.07 424.00,109.36 459.70,145.98 487.30,143.77" fill="none" stroke="#ffe040" stroke-width="1.35" stroke-linejoin="round"/>
<polyline points="413.70,134.95 424.00,121.71 459.70,144.88 487.30,131.64" fill="none" stroke="#707070" stroke-width="1.35" stroke-linejoin="round"/>
<polyline points="413.70,145.76 424.00,73.84 459.70,143.77 487.30,142.67" fill="none" stroke="#d6a0f0" stroke-width="1.35" stroke-linejoin="round"/>
<polyline points="413.70,109.36 424.00,99.43 459.70,143.77 487.30,137.16" fill="none" stroke="#1a5a5a" stroke-width="1.35" stroke-linejoin="round"/>
<polyline points="413.70,125.02 424.00,108.26 487.30,132.96" fill="none" stroke="#d4a888" stroke-width="1.35" stroke-linejoin="round"/>
<rect x="466.60" y="53.40" width="8.40" height="98.30" fill="#fff"/>
<circle cx="413.70" cy="133.85" r="1.70" fill="#1a1a1a"/>
<circle cx="424.00" cy="87.08" r="1.70" fill="#1a1a1a"/>
<circle cx="459.70" cy="143.77" r="1.70" fill="#1a1a1a"/>
<circle cx="487.30" cy="136.05" r="1.70" fill="#1a1a1a"/>
<circle cx="413.70" cy="135.83" r="1.70" fill="#2a2ab8"/>
<circle cx="424.00" cy="81.34" r="1.70" fill="#2a2ab8"/>
<circle cx="459.70" cy="141.57" r="1.70" fill="#2a2ab8"/>
<circle cx="487.30" cy="140.46" r="1.70" fill="#2a2ab8"/>
<circle cx="413.70" cy="131.64" r="1.70" fill="#a09860"/>
<circle cx="424.00" cy="110.02" r="1.70" fill="#a09860"/>
<circle cx="459.70" cy="142.67" r="1.70" fill="#a09860"/>
<circle cx="487.30" cy="133.85" r="1.70" fill="#a09860"/>
<circle cx="413.70" cy="129.43" r="1.70" fill="#6fdde0"/>
<circle cx="424.00" cy="104.29" r="1.70" fill="#6fdde0"/>
<circle cx="459.70" cy="142.67" r="1.70" fill="#6fdde0"/>
<circle cx="487.30" cy="138.26" r="1.70" fill="#6fdde0"/>
<circle cx="413.70" cy="138.26" r="1.70" fill="#5ee05a"/>
<circle cx="424.00" cy="67.22" r="1.70" fill="#5ee05a"/>
<circle cx="487.30" cy="143.77" r="1.70" fill="#5ee05a"/>
<circle cx="413.70" cy="140.91" r="1.70" fill="#e040e0"/>
<circle cx="424.00" cy="116.64" r="1.70" fill="#e040e0"/>
<circle cx="459.70" cy="145.98" r="1.70" fill="#e040e0"/>
<circle cx="487.30" cy="145.98" r="1.70" fill="#e040e0"/>
<circle cx="413.70" cy="132.74" r="1.70" fill="#f08a30"/>
<circle cx="424.00" cy="91.93" r="1.70" fill="#f08a30"/>
<circle cx="459.70" cy="140.46" r="1.70" fill="#f08a30"/>
<circle cx="487.30" cy="129.43" r="1.70" fill="#f08a30"/>
<circle cx="413.70" cy="135.83" r="1.70" fill="#6a1a80"/>
<circle cx="424.00" cy="119.29" r="1.70" fill="#6a1a80"/>
<circle cx="459.70" cy="144.88" r="1.70" fill="#6a1a80"/>
<circle cx="487.30" cy="112.89" r="1.70" fill="#6a1a80"/>
<circle cx="413.70" cy="127.67" r="1.70" fill="#e02828"/>
<circle cx="424.00" cy="125.90" r="1.70" fill="#e02828"/>
<circle cx="459.70" cy="132.08" r="1.70" fill="#e02828"/>
<circle cx="487.30" cy="136.05" r="1.70" fill="#e02828"/>
<circle cx="413.70" cy="149.07" r="1.70" fill="#ffe040"/>
<circle cx="424.00" cy="109.36" r="1.70" fill="#ffe040"/>
<circle cx="459.70" cy="145.98" r="1.70" fill="#ffe040"/>
<circle cx="487.30" cy="143.77" r="1.70" fill="#ffe040"/>
<circle cx="413.70" cy="134.95" r="1.70" fill="#707070"/>
<circle cx="424.00" cy="121.71" r="1.70" fill="#707070"/>
<circle cx="459.70" cy="144.88" r="1.70" fill="#707070"/>
<circle cx="487.30" cy="131.64" r="1.70" fill="#707070"/>
<circle cx="413.70" cy="145.76" r="1.70" fill="#d6a0f0"/>
<circle cx="424.00" cy="73.84" r="1.70" fill="#d6a0f0"/>
<circle cx="459.70" cy="143.77" r="1.70" fill="#d6a0f0"/>
<circle cx="487.30" cy="142.67" r="1.70" fill="#d6a0f0"/>
<circle cx="413.70" cy="109.36" r="1.70" fill="#1a5a5a"/>
<circle cx="424.00" cy="99.43" r="1.70" fill="#1a5a5a"/>
<circle cx="459.70" cy="143.77" r="1.70" fill="#1a5a5a"/>
<circle cx="487.30" cy="137.16" r="1.70" fill="#1a5a5a"/>
<circle cx="413.70" cy="125.02" r="1.70" fill="#d4a888"/>
<circle cx="424.00" cy="108.26" r="1.70" fill="#d4a888"/>
<circle cx="487.30" cy="132.96" r="1.70" fill="#d4a888"/>
<line x1="323.50" y1="153.70" x2="376.20" y2="153.70" stroke="#111" stroke-width="2.2"/>
<line x1="384.90" y1="153.70" x2="397.00" y2="153.70" stroke="#111" stroke-width="2.2"/>
<line x1="413.70" y1="153.70" x2="466.10" y2="153.70" stroke="#111" stroke-width="2.2"/>
<line x1="475.50" y1="153.70" x2="487.30" y2="153.70" stroke="#111" stroke-width="2.2"/>
<line x1="376.20" y1="151.50" x2="376.20" y2="155.90" stroke="#222" stroke-width="1.1"/>
<line x1="384.90" y1="151.50" x2="384.90" y2="155.90" stroke="#222" stroke-width="1.1"/>
<line x1="413.70" y1="151.50" x2="413.70" y2="155.90" stroke="#222" stroke-width="1.1"/>
<line x1="466.10" y1="151.50" x2="466.10" y2="155.90" stroke="#222" stroke-width="1.1"/>
<line x1="475.50" y1="151.50" x2="475.50" y2="155.90" stroke="#222" stroke-width="1.1"/>
<line x1="326.00" y1="153.70" x2="326.00" y2="156.10" stroke="#222" stroke-width="1.1"/>
<line x1="328.00" y1="153.70" x2="328.00" y2="156.10" stroke="#222" stroke-width="1.1"/>
<line x1="330.00" y1="153.70" x2="330.00" y2="156.10" stroke="#222" stroke-width="1.1"/>
<line x1="333.50" y1="153.70" x2="333.50" y2="156.10" stroke="#222" stroke-width="1.1"/>
<line x1="369.20" y1="153.70" x2="369.20" y2="156.10" stroke="#222" stroke-width="1.1"/>
<line x1="397.00" y1="153.70" x2="397.00" y2="156.10" stroke="#222" stroke-width="1.1"/>
<line x1="417.30" y1="153.70" x2="417.30" y2="156.10" stroke="#222" stroke-width="1.1"/>
<line x1="418.90" y1="153.70" x2="418.90" y2="156.10" stroke="#222" stroke-width="1.1"/>
<line x1="420.50" y1="153.70" x2="420.50" y2="156.10" stroke="#222" stroke-width="1.1"/>
<line x1="424.00" y1="153.70" x2="424.00" y2="156.10" stroke="#222" stroke-width="1.1"/>
<line x1="459.70" y1="153.70" x2="459.70" y2="156.10" stroke="#222" stroke-width="1.1"/>
<line x1="487.30" y1="153.70" x2="487.30" y2="156.10" stroke="#222" stroke-width="1.1"/>
<text x="326.10" y="164.78" font-size="8.0" font-weight="normal" text-anchor="middle" fill="#333" stroke="#333" stroke-width="0.32">0</text>
<text x="333.20" y="164.78" font-size="8.0" font-weight="normal" text-anchor="middle" fill="#333" stroke="#333" stroke-width="0.32">4</text>
<text x="369.20" y="164.78" font-size="8.0" font-weight="normal" text-anchor="middle" fill="#333" stroke="#333" stroke-width="0.32">24</text>
<text x="397.00" y="164.78" font-size="8.0" font-weight="normal" text-anchor="middle" fill="#333" stroke="#333" stroke-width="0.32">72</text>
<text x="417.40" y="164.78" font-size="8.0" font-weight="normal" text-anchor="middle" fill="#333" stroke="#333" stroke-width="0.32">0</text>
<text x="423.70" y="164.78" font-size="8.0" font-weight="normal" text-anchor="middle" fill="#333" stroke="#333" stroke-width="0.32">4</text>
<text x="459.70" y="164.78" font-size="8.0" font-weight="normal" text-anchor="middle" fill="#333" stroke="#333" stroke-width="0.32">24</text>
<text x="487.30" y="164.78" font-size="8.0" font-weight="normal" text-anchor="middle" fill="#333" stroke="#333" stroke-width="0.32">72</text>
<line x1="323.50" y1="158.20" x2="323.50" y2="164.70" stroke="#111" stroke-width="1.2"/>
<path d="M323.50,156.20 L325.50,160.10 L321.50,160.10 Z" fill="#111"/>
<line x1="413.70" y1="158.20" x2="413.70" y2="164.70" stroke="#111" stroke-width="1.2"/>
<path d="M413.70,156.20 L415.70,160.10 L411.70,160.10 Z" fill="#111"/>
<text x="357.50" y="174.29" font-size="8.3" font-weight="bold" text-anchor="start" fill="#111" stroke="#111" stroke-width="0.32" textLength="95.7" lengthAdjust="spacingAndGlyphs">Time post-transfusion (hr)</text>
<line x1="497.50" y1="47.40" x2="505.50" y2="47.40" stroke="#1a1a1a" stroke-width="1.2"/>
<path d="M501.50,45.80 L503.10,47.40 L501.50,49.00 L499.90,47.40 Z" fill="#1a1a1a"/>
<text x="508.80" y="50.14" font-size="7.6" font-weight="bold" text-anchor="start" fill="#111" stroke="#111" stroke-width="0.3">1</text>
<line x1="497.50" y1="55.67" x2="505.50" y2="55.67" stroke="#2a2ab8" stroke-width="1.2"/>
<path d="M501.50,54.07 L503.10,55.67 L501.50,57.27 L499.90,55.67 Z" fill="#2a2ab8"/>
<text x="508.80" y="58.41" font-size="7.6" font-weight="bold" text-anchor="start" fill="#111" stroke="#111" stroke-width="0.3">2</text>
<line x1="497.50" y1="63.94" x2="505.50" y2="63.94" stroke="#a09860" stroke-width="1.2"/>
<path d="M501.50,62.34 L503.10,63.94 L501.50,65.54 L499.90,63.94 Z" fill="#a09860"/>
<text x="508.80" y="66.68" font-size="7.6" font-weight="bold" text-anchor="start" fill="#111" stroke="#111" stroke-width="0.3">3</text>
<line x1="497.50" y1="72.21" x2="505.50" y2="72.21" stroke="#6fdde0" stroke-width="1.2"/>
<path d="M501.50,70.61 L503.10,72.21 L501.50,73.81 L499.90,72.21 Z" fill="#6fdde0"/>
<text x="508.80" y="74.95" font-size="7.6" font-weight="bold" text-anchor="start" fill="#111" stroke="#111" stroke-width="0.3">4</text>
<line x1="497.50" y1="80.48" x2="505.50" y2="80.48" stroke="#5ee05a" stroke-width="1.2"/>
<path d="M501.50,78.88 L503.10,80.48 L501.50,82.08 L499.90,80.48 Z" fill="#5ee05a"/>
<text x="508.80" y="83.22" font-size="7.6" font-weight="bold" text-anchor="start" fill="#111" stroke="#111" stroke-width="0.3">5</text>
<line x1="497.50" y1="88.75" x2="505.50" y2="88.75" stroke="#e040e0" stroke-width="1.2"/>
<path d="M501.50,87.15 L503.10,88.75 L501.50,90.35 L499.90,88.75 Z" fill="#e040e0"/>
<text x="508.80" y="91.49" font-size="7.6" font-weight="bold" text-anchor="start" fill="#111" stroke="#111" stroke-width="0.3">6</text>
<line x1="497.50" y1="97.02" x2="505.50" y2="97.02" stroke="#f08a30" stroke-width="1.2"/>
<path d="M501.50,95.42 L503.10,97.02 L501.50,98.62 L499.90,97.02 Z" fill="#f08a30"/>
<text x="508.80" y="99.76" font-size="7.6" font-weight="bold" text-anchor="start" fill="#111" stroke="#111" stroke-width="0.3">7</text>
<line x1="497.50" y1="105.29" x2="505.50" y2="105.29" stroke="#6a1a80" stroke-width="1.2"/>
<path d="M501.50,103.69 L503.10,105.29 L501.50,106.89 L499.90,105.29 Z" fill="#6a1a80"/>
<text x="508.80" y="108.03" font-size="7.6" font-weight="bold" text-anchor="start" fill="#111" stroke="#111" stroke-width="0.3">8</text>
<line x1="497.50" y1="113.56" x2="505.50" y2="113.56" stroke="#e02828" stroke-width="1.2"/>
<path d="M501.50,111.96 L503.10,113.56 L501.50,115.16 L499.90,113.56 Z" fill="#e02828"/>
<text x="508.80" y="116.30" font-size="7.6" font-weight="bold" text-anchor="start" fill="#111" stroke="#111" stroke-width="0.3">9</text>
<line x1="497.50" y1="121.83" x2="505.50" y2="121.83" stroke="#ffe040" stroke-width="1.2"/>
<path d="M501.50,120.23 L503.10,121.83 L501.50,123.43 L499.90,121.83 Z" fill="#ffe040"/>
<text x="508.80" y="124.57" font-size="7.6" font-weight="bold" text-anchor="start" fill="#111" stroke="#111" stroke-width="0.3">10</text>
<line x1="497.50" y1="130.10" x2="505.50" y2="130.10" stroke="#707070" stroke-width="1.2"/>
<path d="M501.50,128.50 L503.10,130.10 L501.50,131.70 L499.90,130.10 Z" fill="#707070"/>
<text x="508.80" y="132.84" font-size="7.6" font-weight="bold" text-anchor="start" fill="#111" stroke="#111" stroke-width="0.3">11</text>
<line x1="497.50" y1="138.37" x2="505.50" y2="138.37" stroke="#d6a0f0" stroke-width="1.2"/>
<path d="M501.50,136.77 L503.10,138.37 L501.50,139.97 L499.90,138.37 Z" fill="#d6a0f0"/>
<text x="508.80" y="141.11" font-size="7.6" font-weight="bold" text-anchor="start" fill="#111" stroke="#111" stroke-width="0.3">12</text>
<line x1="497.50" y1="146.64" x2="505.50" y2="146.64" stroke="#1a5a5a" stroke-width="1.2"/>
<path d="M501.50,145.04 L503.10,146.64 L501.50,148.24 L499.90,146.64 Z" fill="#1a5a5a"/>
<text x="508.80" y="149.38" font-size="7.6" font-weight="bold" text-anchor="start" fill="#111" stroke="#111" stroke-width="0.3">13</text>
<line x1="497.50" y1="154.91" x2="505.50" y2="154.91" stroke="#d4a888" stroke-width="1.2"/>
<path d="M501.50,153.31 L503.10,154.91 L501.50,156.51 L499.90,154.91 Z" fill="#d4a888"/>
<text x="508.80" y="157.65" font-size="7.6" font-weight="bold" text-anchor="start" fill="#111" stroke="#111" stroke-width="0.3">14</text>
<text x="265.00" y="200.90" font-size="17.5" font-weight="bold" fill="#111" stroke="#111" stroke-width="0.3">D</text>
<line x1="323.50" y1="232.20" x2="323.50" y2="343.50" stroke="#111" stroke-width="1.8"/>
<line x1="320.70" y1="342.50" x2="323.50" y2="342.50" stroke="#111" stroke-width="1.4"/>
<text x="320.20" y="345.34" font-size="7.9" font-weight="normal" text-anchor="end" fill="#333" stroke="#333" stroke-width="0.32">0</text>
<line x1="320.70" y1="320.44" x2="323.50" y2="320.44" stroke="#111" stroke-width="1.4"/>
<text x="320.20" y="323.28" font-size="7.9" font-weight="normal" text-anchor="end" fill="#333" stroke="#333" stroke-width="0.32">20</text>
<line x1="320.70" y1="298.38" x2="323.50" y2="298.38" stroke="#111" stroke-width="1.4"/>
<text x="320.20" y="301.22" font-size="7.9" font-weight="normal" text-anchor="end" fill="#333" stroke="#333" stroke-width="0.32">40</text>
<line x1="320.70" y1="276.32" x2="323.50" y2="276.32" stroke="#111" stroke-width="1.4"/>
<text x="320.20" y="279.16" font-size="7.9" font-weight="normal" text-anchor="end" fill="#333" stroke="#333" stroke-width="0.32">60</text>
<line x1="320.70" y1="254.26" x2="323.50" y2="254.26" stroke="#111" stroke-width="1.4"/>
<text x="320.20" y="257.10" font-size="7.9" font-weight="normal" text-anchor="end" fill="#333" stroke="#333" stroke-width="0.32">80</text>
<line x1="320.70" y1="232.20" x2="323.50" y2="232.20" stroke="#111" stroke-width="1.4"/>
<text x="320.20" y="235.04" font-size="7.9" font-weight="normal" text-anchor="end" fill="#333" stroke="#333" stroke-width="0.32">100</text>
<text x="0" y="0" transform="translate(302.44,285.60) rotate(-90)" font-size="7.9" font-weight="bold" text-anchor="middle" fill="#222" stroke="#222" stroke-width="0.25" textLength="93.8" lengthAdjust="spacingAndGlyphs">Transferrin saturation (%)</text>
<path d="M323.50,231.10 L398.7,231.10 L398.7,233.10" fill="none" stroke="#222" stroke-width="1.2"/>
<path d="M415.8,233.10 L415.8,231.10 L490.4,231.10 L490.4,233.10" fill="none" stroke="#222" stroke-width="1.2"/>
<text x="352.50" y="229.55" font-size="8.2" font-weight="bold" text-anchor="start" fill="#111" stroke="#111" stroke-width="0.32" textLength="20.4" lengthAdjust="spacingAndGlyphs">Fresh</text>
<text x="447.70" y="229.55" font-size="8.2" font-weight="bold" text-anchor="start" fill="#111" stroke="#111" stroke-width="0.32" textLength="20.2" lengthAdjust="spacingAndGlyphs">Older</text>
<line x1="324.50" y1="303.89" x2="375.70" y2="303.89" stroke="#2a2a2a" stroke-width="1.35" stroke-dasharray="1.5 1.65"/>
<line x1="386.40" y1="303.89" x2="398.00" y2="303.89" stroke="#2a2a2a" stroke-width="1.35" stroke-dasharray="1.5 1.65"/>
<line x1="414.70" y1="303.89" x2="465.60" y2="303.89" stroke="#2a2a2a" stroke-width="1.35" stroke-dasharray="1.5 1.65"/>
<line x1="477.00" y1="303.89" x2="488.30" y2="303.89" stroke="#2a2a2a" stroke-width="1.35" stroke-dasharray="1.5 1.65"/>
<line x1="324.50" y1="324.30" x2="375.70" y2="324.30" stroke="#2a2a2a" stroke-width="1.35" stroke-dasharray="1.5 1.65"/>
<line x1="386.40" y1="324.30" x2="398.00" y2="324.30" stroke="#2a2a2a" stroke-width="1.35" stroke-dasharray="1.5 1.65"/>
<line x1="414.70" y1="324.30" x2="465.60" y2="324.30" stroke="#2a2a2a" stroke-width="1.35" stroke-dasharray="1.5 1.65"/>
<line x1="477.00" y1="324.30" x2="488.30" y2="324.30" stroke="#2a2a2a" stroke-width="1.35" stroke-dasharray="1.5 1.65"/>
<polyline points="323.50,318.23 326.00,316.03 328.00,313.82 330.00,311.62 333.50,309.41 369.20,319.34 397.00,325.95" fill="none" stroke="#1a1a1a" stroke-width="1.35" stroke-linejoin="round"/>
<polyline points="323.50,320.44 326.00,319.34 328.00,320.44 330.00,320.44 333.50,321.54 369.20,330.37 397.00,329.26" fill="none" stroke="#2a2ab8" stroke-width="1.35" stroke-linejoin="round"/>
<polyline points="323.50,322.65 326.00,320.44 328.00,318.23 330.00,316.03 333.50,313.82 369.20,308.31 397.00,317.13" fill="none" stroke="#a09860" stroke-width="1.35" stroke-linejoin="round"/>
<polyline points="323.50,318.23 326.00,316.03 328.00,314.93 330.00,313.82 333.50,312.72 369.20,322.65 397.00,323.75" fill="none" stroke="#6fdde0" stroke-width="1.35" stroke-linejoin="round"/>
<polyline points="323.50,330.37 326.00,330.37 328.00,330.37 330.00,330.37 333.50,330.37 369.20,331.47 397.00,331.47" fill="none" stroke="#5ee05a" stroke-width="1.35" stroke-linejoin="round"/>
<polyline points="323.50,322.65 326.00,318.23 328.00,313.82 330.00,311.62 333.50,309.41 369.20,305.00 397.00,320.44" fill="none" stroke="#e040e0" stroke-width="1.35" stroke-linejoin="round"/>
<polyline points="323.50,334.78 326.00,335.88 328.00,335.88 330.00,336.99 333.50,336.99 369.20,332.57 397.00,333.68" fill="none" stroke="#f08a30" stroke-width="1.35" stroke-linejoin="round"/>
<polyline points="323.50,320.44 326.00,319.34 328.00,319.34 330.00,320.44 333.50,320.44 369.20,322.65 397.00,330.37" fill="none" stroke="#6a1a80" stroke-width="1.35" stroke-linejoin="round"/>
<polyline points="323.50,308.31 326.00,318.23 328.00,321.54 330.00,322.65 333.50,323.75 369.20,320.44 397.00,322.65" fill="none" stroke="#e02828" stroke-width="1.35" stroke-linejoin="round"/>
<polyline points="323.50,332.57 326.00,331.47 328.00,331.47 330.00,330.37 333.50,330.37 369.20,332.57 397.00,332.57" fill="none" stroke="#ffe040" stroke-width="1.35" stroke-linejoin="round"/>
<polyline points="323.50,316.03 326.00,317.13 328.00,318.23 330.00,319.34 333.50,320.44 369.20,324.85 397.00,322.65" fill="none" stroke="#707070" stroke-width="1.35" stroke-linejoin="round"/>
<polyline points="323.50,312.72 326.00,313.82 328.00,314.93 330.00,316.03 333.50,316.03 369.20,329.26 397.00,331.47" fill="none" stroke="#d6a0f0" stroke-width="1.35" stroke-linejoin="round"/>
<polyline points="323.50,317.13 326.00,313.82 328.00,310.51 330.00,308.31 333.50,307.20 369.20,322.65 397.00,306.10" fill="none" stroke="#1a5a5a" stroke-width="1.35" stroke-linejoin="round"/>
<polyline points="323.50,314.93 326.00,313.82 328.00,312.72 330.00,311.62 333.50,311.62 369.20,321.54 397.00,318.23" fill="none" stroke="#d4a888" stroke-width="1.35" stroke-linejoin="round"/>
<rect x="376.70" y="242.20" width="7.70" height="98.30" fill="#fff"/>
<circle cx="323.50" cy="318.23" r="1.70" fill="#1a1a1a"/>
<circle cx="333.50" cy="309.41" r="1.70" fill="#1a1a1a"/>
<circle cx="369.20" cy="319.34" r="1.70" fill="#1a1a1a"/>
<circle cx="397.00" cy="325.95" r="1.70" fill="#1a1a1a"/>
<circle cx="323.50" cy="320.44" r="1.70" fill="#2a2ab8"/>
<circle cx="333.50" cy="321.54" r="1.70" fill="#2a2ab8"/>
<circle cx="369.20" cy="330.37" r="1.70" fill="#2a2ab8"/>
<circle cx="397.00" cy="329.26" r="1.70" fill="#2a2ab8"/>
<circle cx="323.50" cy="322.65" r="1.70" fill="#a09860"/>
<circle cx="333.50" cy="313.82" r="1.70" fill="#a09860"/>
<circle cx="369.20" cy="308.31" r="1.70" fill="#a09860"/>
<circle cx="397.00" cy="317.13" r="1.70" fill="#a09860"/>
<circle cx="323.50" cy="318.23" r="1.70" fill="#6fdde0"/>
<circle cx="333.50" cy="312.72" r="1.70" fill="#6fdde0"/>
<circle cx="369.20" cy="322.65" r="1.70" fill="#6fdde0"/>
<circle cx="397.00" cy="323.75" r="1.70" fill="#6fdde0"/>
<circle cx="323.50" cy="330.37" r="1.70" fill="#5ee05a"/>
<circle cx="333.50" cy="330.37" r="1.70" fill="#5ee05a"/>
<circle cx="369.20" cy="331.47" r="1.70" fill="#5ee05a"/>
<circle cx="397.00" cy="331.47" r="1.70" fill="#5ee05a"/>
<circle cx="323.50" cy="322.65" r="1.70" fill="#e040e0"/>
<circle cx="333.50" cy="309.41" r="1.70" fill="#e040e0"/>
<circle cx="369.20" cy="305.00" r="1.70" fill="#e040e0"/>
<circle cx="397.00" cy="320.44" r="1.70" fill="#e040e0"/>
<circle cx="323.50" cy="334.78" r="1.70" fill="#f08a30"/>
<circle cx="333.50" cy="336.99" r="1.70" fill="#f08a30"/>
<circle cx="369.20" cy="332.57" r="1.70" fill="#f08a30"/>
<circle cx="397.00" cy="333.68" r="1.70" fill="#f08a30"/>
<circle cx="323.50" cy="320.44" r="1.70" fill="#6a1a80"/>
<circle cx="333.50" cy="320.44" r="1.70" fill="#6a1a80"/>
<circle cx="369.20" cy="322.65" r="1.70" fill="#6a1a80"/>
<circle cx="397.00" cy="330.37" r="1.70" fill="#6a1a80"/>
<circle cx="323.50" cy="308.31" r="1.70" fill="#e02828"/>
<circle cx="333.50" cy="323.75" r="1.70" fill="#e02828"/>
<circle cx="369.20" cy="320.44" r="1.70" fill="#e02828"/>
<circle cx="397.00" cy="322.65" r="1.70" fill="#e02828"/>
<circle cx="323.50" cy="332.57" r="1.70" fill="#ffe040"/>
<circle cx="333.50" cy="330.37" r="1.70" fill="#ffe040"/>
<circle cx="369.20" cy="332.57" r="1.70" fill="#ffe040"/>
<circle cx="397.00" cy="332.57" r="1.70" fill="#ffe040"/>
<circle cx="323.50" cy="316.03" r="1.70" fill="#707070"/>
<circle cx="333.50" cy="320.44" r="1.70" fill="#707070"/>
<circle cx="369.20" cy="324.85" r="1.70" fill="#707070"/>
<circle cx="397.00" cy="322.65" r="1.70" fill="#707070"/>
<circle cx="323.50" cy="312.72" r="1.70" fill="#d6a0f0"/>
<circle cx="333.50" cy="316.03" r="1.70" fill="#d6a0f0"/>
<circle cx="369.20" cy="329.26" r="1.70" fill="#d6a0f0"/>
<circle cx="397.00" cy="331.47" r="1.70" fill="#d6a0f0"/>
<circle cx="323.50" cy="317.13" r="1.70" fill="#1a5a5a"/>
<circle cx="333.50" cy="307.20" r="1.70" fill="#1a5a5a"/>
<circle cx="369.20" cy="322.65" r="1.70" fill="#1a5a5a"/>
<circle cx="397.00" cy="306.10" r="1.70" fill="#1a5a5a"/>
<circle cx="323.50" cy="314.93" r="1.70" fill="#d4a888"/>
<circle cx="333.50" cy="311.62" r="1.70" fill="#d4a888"/>
<circle cx="369.20" cy="321.54" r="1.70" fill="#d4a888"/>
<circle cx="397.00" cy="318.23" r="1.70" fill="#d4a888"/>
<polyline points="413.70,303.89 424.00,255.91 459.70,325.95 487.30,320.44" fill="none" stroke="#1a1a1a" stroke-width="1.35" stroke-linejoin="round"/>
<polyline points="413.70,301.69 424.00,246.54 459.70,323.75 487.30,325.95" fill="none" stroke="#2a2ab8" stroke-width="1.35" stroke-linejoin="round"/>
<polyline points="413.70,311.62 424.00,278.53 459.70,329.26 487.30,301.69" fill="none" stroke="#a09860" stroke-width="1.35" stroke-linejoin="round"/>
<polyline points="413.70,303.89 424.00,273.01 459.70,320.44 487.30,320.44" fill="none" stroke="#6fdde0" stroke-width="1.35" stroke-linejoin="round"/>
<polyline points="413.70,314.93 424.00,240.58 487.30,314.93" fill="none" stroke="#5ee05a" stroke-width="1.35" stroke-linejoin="round"/>
<polyline points="413.70,320.44 424.00,290.66 459.70,329.26 487.30,329.26" fill="none" stroke="#e040e0" stroke-width="1.35" stroke-linejoin="round"/>
<polyline points="413.70,309.41 424.00,262.64 459.70,317.13 487.30,329.26" fill="none" stroke="#f08a30" stroke-width="1.35" stroke-linejoin="round"/>
<polyline points="413.70,314.93 424.00,284.59 459.70,328.16 487.30,284.04" fill="none" stroke="#6a1a80" stroke-width="1.35" stroke-linejoin="round"/>
<polyline points="413.70,308.31 424.00,302.79 459.70,314.93 487.30,311.62" fill="none" stroke="#e02828" stroke-width="1.35" stroke-linejoin="round"/>
<polyline points="413.70,335.33 424.00,277.86 459.70,329.26 487.30,332.90" fill="none" stroke="#ffe040" stroke-width="1.35" stroke-linejoin="round"/>
<polyline points="413.70,320.44 424.00,291.32 459.70,327.06 487.30,314.93" fill="none" stroke="#707070" stroke-width="1.35" stroke-linejoin="round"/>
<polyline points="413.70,309.41 424.00,251.17 459.70,325.95 487.30,320.44" fill="none" stroke="#d6a0f0" stroke-width="1.35" stroke-linejoin="round"/>
<polyline points="413.70,285.59 424.00,275.99 459.70,324.85 487.30,312.72" fill="none" stroke="#1a5a5a" stroke-width="1.35" stroke-linejoin="round"/>
<polyline points="413.70,303.89 424.00,273.01 459.70,318.23 487.30,309.41" fill="none" stroke="#d4a888" stroke-width="1.35" stroke-linejoin="round"/>
<rect x="466.60" y="242.20" width="8.40" height="98.30" fill="#fff"/>
<circle cx="413.70" cy="303.89" r="1.70" fill="#1a1a1a"/>
<circle cx="424.00" cy="255.91" r="1.70" fill="#1a1a1a"/>
<circle cx="459.70" cy="325.95" r="1.70" fill="#1a1a1a"/>
<circle cx="487.30" cy="320.44" r="1.70" fill="#1a1a1a"/>
<circle cx="413.70" cy="301.69" r="1.70" fill="#2a2ab8"/>
<circle cx="424.00" cy="246.54" r="1.70" fill="#2a2ab8"/>
<circle cx="459.70" cy="323.75" r="1.70" fill="#2a2ab8"/>
<circle cx="487.30" cy="325.95" r="1.70" fill="#2a2ab8"/>
<circle cx="413.70" cy="311.62" r="1.70" fill="#a09860"/>
<circle cx="424.00" cy="278.53" r="1.70" fill="#a09860"/>
<circle cx="459.70" cy="329.26" r="1.70" fill="#a09860"/>
<circle cx="487.30" cy="301.69" r="1.70" fill="#a09860"/>
<circle cx="413.70" cy="303.89" r="1.70" fill="#6fdde0"/>
<circle cx="424.00" cy="273.01" r="1.70" fill="#6fdde0"/>
<circle cx="459.70" cy="320.44" r="1.70" fill="#6fdde0"/>
<circle cx="487.30" cy="320.44" r="1.70" fill="#6fdde0"/>
<circle cx="413.70" cy="314.93" r="1.70" fill="#5ee05a"/>
<circle cx="424.00" cy="240.58" r="1.70" fill="#5ee05a"/>
<circle cx="487.30" cy="314.93" r="1.70" fill="#5ee05a"/>
<circle cx="413.70" cy="320.44" r="1.70" fill="#e040e0"/>
<circle cx="424.00" cy="290.66" r="1.70" fill="#e040e0"/>
<circle cx="459.70" cy="329.26" r="1.70" fill="#e040e0"/>
<circle cx="487.30" cy="329.26" r="1.70" fill="#e040e0"/>
<circle cx="413.70" cy="309.41" r="1.70" fill="#f08a30"/>
<circle cx="424.00" cy="262.64" r="1.70" fill="#f08a30"/>
<circle cx="459.70" cy="317.13" r="1.70" fill="#f08a30"/>
<circle cx="487.30" cy="329.26" r="1.70" fill="#f08a30"/>
<circle cx="413.70" cy="314.93" r="1.70" fill="#6a1a80"/>
<circle cx="424.00" cy="284.59" r="1.70" fill="#6a1a80"/>
<circle cx="459.70" cy="328.16" r="1.70" fill="#6a1a80"/>
<circle cx="487.30" cy="284.04" r="1.70" fill="#6a1a80"/>
<circle cx="413.70" cy="308.31" r="1.70" fill="#e02828"/>
<circle cx="424.00" cy="302.79" r="1.70" fill="#e02828"/>
<circle cx="459.70" cy="314.93" r="1.70" fill="#e02828"/>
<circle cx="487.30" cy="311.62" r="1.70" fill="#e02828"/>
<circle cx="413.70" cy="335.33" r="1.70" fill="#ffe040"/>
<circle cx="424.00" cy="277.86" r="1.70" fill="#ffe040"/>
<circle cx="459.70" cy="329.26" r="1.70" fill="#ffe040"/>
<circle cx="487.30" cy="332.90" r="1.70" fill="#ffe040"/>
<circle cx="413.70" cy="320.44" r="1.70" fill="#707070"/>
<circle cx="424.00" cy="291.32" r="1.70" fill="#707070"/>
<circle cx="459.70" cy="327.06" r="1.70" fill="#707070"/>
<circle cx="487.30" cy="314.93" r="1.70" fill="#707070"/>
<circle cx="413.70" cy="309.41" r="1.70" fill="#d6a0f0"/>
<circle cx="424.00" cy="251.17" r="1.70" fill="#d6a0f0"/>
<circle cx="459.70" cy="325.95" r="1.70" fill="#d6a0f0"/>
<circle cx="487.30" cy="320.44" r="1.70" fill="#d6a0f0"/>
<circle cx="413.70" cy="285.59" r="1.70" fill="#1a5a5a"/>
<circle cx="424.00" cy="275.99" r="1.70" fill="#1a5a5a"/>
<circle cx="459.70" cy="324.85" r="1.70" fill="#1a5a5a"/>
<circle cx="487.30" cy="312.72" r="1.70" fill="#1a5a5a"/>
<circle cx="413.70" cy="303.89" r="1.70" fill="#d4a888"/>
<circle cx="424.00" cy="273.01" r="1.70" fill="#d4a888"/>
<circle cx="459.70" cy="318.23" r="1.70" fill="#d4a888"/>
<circle cx="487.30" cy="309.41" r="1.70" fill="#d4a888"/>
<line x1="323.50" y1="342.50" x2="376.20" y2="342.50" stroke="#111" stroke-width="2.2"/>
<line x1="384.90" y1="342.50" x2="397.00" y2="342.50" stroke="#111" stroke-width="2.2"/>
<line x1="413.70" y1="342.50" x2="466.10" y2="342.50" stroke="#111" stroke-width="2.2"/>
<line x1="475.50" y1="342.50" x2="487.30" y2="342.50" stroke="#111" stroke-width="2.2"/>
<line x1="376.20" y1="340.30" x2="376.20" y2="344.70" stroke="#222" stroke-width="1.1"/>
<line x1="384.90" y1="340.30" x2="384.90" y2="344.70" stroke="#222" stroke-width="1.1"/>
<line x1="413.70" y1="340.30" x2="413.70" y2="344.70" stroke="#222" stroke-width="1.1"/>
<line x1="466.10" y1="340.30" x2="466.10" y2="344.70" stroke="#222" stroke-width="1.1"/>
<line x1="475.50" y1="340.30" x2="475.50" y2="344.70" stroke="#222" stroke-width="1.1"/>
<line x1="326.00" y1="342.50" x2="326.00" y2="344.90" stroke="#222" stroke-width="1.1"/>
<line x1="328.00" y1="342.50" x2="328.00" y2="344.90" stroke="#222" stroke-width="1.1"/>
<line x1="330.00" y1="342.50" x2="330.00" y2="344.90" stroke="#222" stroke-width="1.1"/>
<line x1="333.50" y1="342.50" x2="333.50" y2="344.90" stroke="#222" stroke-width="1.1"/>
<line x1="369.20" y1="342.50" x2="369.20" y2="344.90" stroke="#222" stroke-width="1.1"/>
<line x1="397.00" y1="342.50" x2="397.00" y2="344.90" stroke="#222" stroke-width="1.1"/>
<line x1="417.30" y1="342.50" x2="417.30" y2="344.90" stroke="#222" stroke-width="1.1"/>
<line x1="418.90" y1="342.50" x2="418.90" y2="344.90" stroke="#222" stroke-width="1.1"/>
<line x1="420.50" y1="342.50" x2="420.50" y2="344.90" stroke="#222" stroke-width="1.1"/>
<line x1="424.00" y1="342.50" x2="424.00" y2="344.90" stroke="#222" stroke-width="1.1"/>
<line x1="459.70" y1="342.50" x2="459.70" y2="344.90" stroke="#222" stroke-width="1.1"/>
<line x1="487.30" y1="342.50" x2="487.30" y2="344.90" stroke="#222" stroke-width="1.1"/>
<text x="326.10" y="353.68" font-size="8.0" font-weight="normal" text-anchor="middle" fill="#333" stroke="#333" stroke-width="0.32">0</text>
<text x="333.20" y="353.68" font-size="8.0" font-weight="normal" text-anchor="middle" fill="#333" stroke="#333" stroke-width="0.32">4</text>
<text x="369.20" y="353.68" font-size="8.0" font-weight="normal" text-anchor="middle" fill="#333" stroke="#333" stroke-width="0.32">24</text>
<text x="397.00" y="353.68" font-size="8.0" font-weight="normal" text-anchor="middle" fill="#333" stroke="#333" stroke-width="0.32">72</text>
<text x="417.40" y="353.68" font-size="8.0" font-weight="normal" text-anchor="middle" fill="#333" stroke="#333" stroke-width="0.32">0</text>
<text x="423.70" y="353.68" font-size="8.0" font-weight="normal" text-anchor="middle" fill="#333" stroke="#333" stroke-width="0.32">4</text>
<text x="459.70" y="353.68" font-size="8.0" font-weight="normal" text-anchor="middle" fill="#333" stroke="#333" stroke-width="0.32">24</text>
<text x="487.30" y="353.68" font-size="8.0" font-weight="normal" text-anchor="middle" fill="#333" stroke="#333" stroke-width="0.32">72</text>
<line x1="323.50" y1="347.00" x2="323.50" y2="353.50" stroke="#111" stroke-width="1.2"/>
<path d="M323.50,345.00 L325.50,348.90 L321.50,348.90 Z" fill="#111"/>
<line x1="413.70" y1="347.00" x2="413.70" y2="353.50" stroke="#111" stroke-width="1.2"/>
<path d="M413.70,345.00 L415.70,348.90 L411.70,348.90 Z" fill="#111"/>
<text x="357.50" y="362.49" font-size="8.3" font-weight="bold" text-anchor="start" fill="#111" stroke="#111" stroke-width="0.32" textLength="95.7" lengthAdjust="spacingAndGlyphs">Time post-transfusion (hr)</text>
<line x1="497.50" y1="234.50" x2="505.50" y2="234.50" stroke="#1a1a1a" stroke-width="1.2"/>
<path d="M501.50,232.90 L503.10,234.50 L501.50,236.10 L499.90,234.50 Z" fill="#1a1a1a"/>
<text x="508.80" y="237.24" font-size="7.6" font-weight="bold" text-anchor="start" fill="#111" stroke="#111" stroke-width="0.3">1</text>
<line x1="497.50" y1="242.90" x2="505.50" y2="242.90" stroke="#2a2ab8" stroke-width="1.2"/>
<path d="M501.50,241.30 L503.10,242.90 L501.50,244.50 L499.90,242.90 Z" fill="#2a2ab8"/>
<text x="508.80" y="245.64" font-size="7.6" font-weight="bold" text-anchor="start" fill="#111" stroke="#111" stroke-width="0.3">2</text>
<line x1="497.50" y1="251.30" x2="505.50" y2="251.30" stroke="#a09860" stroke-width="1.2"/>
<path d="M501.50,249.70 L503.10,251.30 L501.50,252.90 L499.90,251.30 Z" fill="#a09860"/>
<text x="508.80" y="254.04" font-size="7.6" font-weight="bold" text-anchor="start" fill="#111" stroke="#111" stroke-width="0.3">3</text>
<line x1="497.50" y1="259.70" x2="505.50" y2="259.70" stroke="#6fdde0" stroke-width="1.2"/>
<path d="M501.50,258.10 L503.10,259.70 L501.50,261.30 L499.90,259.70 Z" fill="#6fdde0"/>
<text x="508.80" y="262.44" font-size="7.6" font-weight="bold" text-anchor="start" fill="#111" stroke="#111" stroke-width="0.3">4</text>
<line x1="497.50" y1="268.10" x2="505.50" y2="268.10" stroke="#5ee05a" stroke-width="1.2"/>
<path d="M501.50,266.50 L503.10,268.10 L501.50,269.70 L499.90,268.10 Z" fill="#5ee05a"/>
<text x="508.80" y="270.84" font-size="7.6" font-weight="bold" text-anchor="start" fill="#111" stroke="#111" stroke-width="0.3">5</text>
<line x1="497.50" y1="276.50" x2="505.50" y2="276.50" stroke="#e040e0" stroke-width="1.2"/>
<path d="M501.50,274.90 L503.10,276.50 L501.50,278.10 L499.90,276.50 Z" fill="#e040e0"/>
<text x="508.80" y="279.24" font-size="7.6" font-weight="bold" text-anchor="start" fill="#111" stroke="#111" stroke-width="0.3">6</text>
<line x1="497.50" y1="284.90" x2="505.50" y2="284.90" stroke="#f08a30" stroke-width="1.2"/>
<path d="M501.50,283.30 L503.10,284.90 L501.50,286.50 L499.90,284.90 Z" fill="#f08a30"/>
<text x="508.80" y="287.64" font-size="7.6" font-weight="bold" text-anchor="start" fill="#111" stroke="#111" stroke-width="0.3">7</text>
<line x1="497.50" y1="293.30" x2="505.50" y2="293.30" stroke="#6a1a80" stroke-width="1.2"/>
<path d="M501.50,291.70 L503.10,293.30 L501.50,294.90 L499.90,293.30 Z" fill="#6a1a80"/>
<text x="508.80" y="296.04" font-size="7.6" font-weight="bold" text-anchor="start" fill="#111" stroke="#111" stroke-width="0.3">8</text>
<line x1="497.50" y1="301.70" x2="505.50" y2="301.70" stroke="#e02828" stroke-width="1.2"/>
<path d="M501.50,300.10 L503.10,301.70 L501.50,303.30 L499.90,301.70 Z" fill="#e02828"/>
<text x="508.80" y="304.44" font-size="7.6" font-weight="bold" text-anchor="start" fill="#111" stroke="#111" stroke-width="0.3">9</text>
<line x1="497.50" y1="310.10" x2="505.50" y2="310.10" stroke="#ffe040" stroke-width="1.2"/>
<path d="M501.50,308.50 L503.10,310.10 L501.50,311.70 L499.90,310.10 Z" fill="#ffe040"/>
<text x="508.80" y="312.84" font-size="7.6" font-weight="bold" text-anchor="start" fill="#111" stroke="#111" stroke-width="0.3">10</text>
<line x1="497.50" y1="318.50" x2="505.50" y2="318.50" stroke="#707070" stroke-width="1.2"/>
<path d="M501.50,316.90 L503.10,318.50 L501.50,320.10 L499.90,318.50 Z" fill="#707070"/>
<text x="508.80" y="321.24" font-size="7.6" font-weight="bold" text-anchor="start" fill="#111" stroke="#111" stroke-width="0.3">11</text>
<line x1="497.50" y1="326.90" x2="505.50" y2="326.90" stroke="#d6a0f0" stroke-width="1.2"/>
<path d="M501.50,325.30 L503.10,326.90 L501.50,328.50 L499.90,326.90 Z" fill="#d6a0f0"/>
<text x="508.80" y="329.64" font-size="7.6" font-weight="bold" text-anchor="start" fill="#111" stroke="#111" stroke-width="0.3">12</text>
<line x1="497.50" y1="335.30" x2="505.50" y2="335.30" stroke="#1a5a5a" stroke-width="1.2"/>
<path d="M501.50,333.70 L503.10,335.30 L501.50,336.90 L499.90,335.30 Z" fill="#1a5a5a"/>
<text x="508.80" y="338.04" font-size="7.6" font-weight="bold" text-anchor="start" fill="#111" stroke="#111" stroke-width="0.3">13</text>
<line x1="497.50" y1="343.70" x2="505.50" y2="343.70" stroke="#d4a888" stroke-width="1.2"/>
<path d="M501.50,342.10 L503.10,343.70 L501.50,345.30 L499.90,343.70 Z" fill="#d4a888"/>
<text x="508.80" y="346.44" font-size="7.6" font-weight="bold" text-anchor="start" fill="#111" stroke="#111" stroke-width="0.3">14</text>
</svg></body></html>
